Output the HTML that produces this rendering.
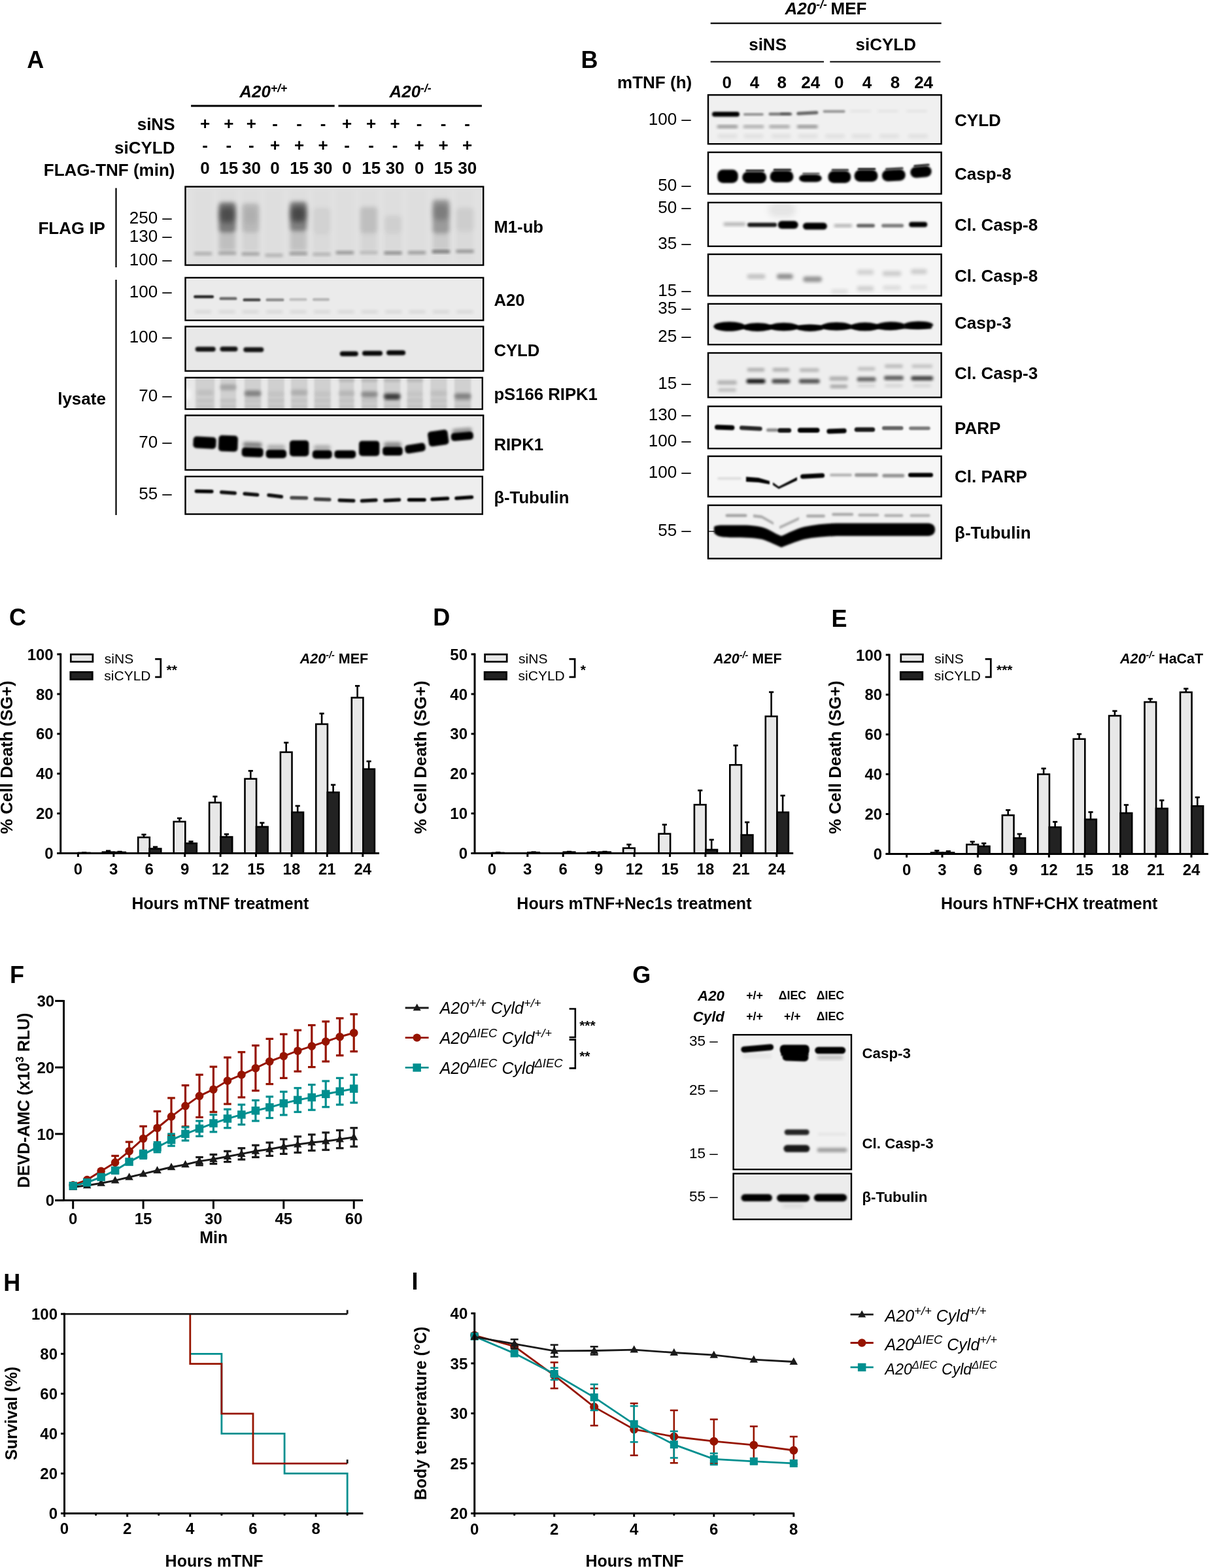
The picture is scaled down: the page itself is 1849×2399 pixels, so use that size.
<!DOCTYPE html>
<html><head><meta charset="utf-8"><title>Figure</title>
<style>html,body{margin:0;padding:0;background:#fff;}svg{display:block;}text{font-family:"Liberation Sans",Arial,sans-serif;}</style>
</head><body>
<svg width="1849" height="2399" viewBox="0 0 1849 2399">
<rect width="1849" height="2399" fill="#fff"/>
<text x="41.2" y="103.7" font-size="36" font-weight="bold">A</text>
<text x="366.3" y="148.5" font-size="26" font-weight="bold" font-style="italic">A20<tspan font-size="17.5" dy="-8">+/+</tspan></text>
<text x="595.4" y="148.5" font-size="26" font-weight="bold" font-style="italic">A20<tspan font-size="17.5" dy="-8">-/-</tspan></text>
<line x1="292.1" y1="162.0" x2="511.7" y2="162.0" stroke="#000" stroke-width="2.8"/>
<line x1="517.5" y1="162.0" x2="736.9" y2="162.0" stroke="#000" stroke-width="2.8"/>
<text x="267.5" y="198.6" font-size="26" font-weight="bold" text-anchor="end">siNS</text>
<text x="267.5" y="234.5" font-size="26" font-weight="bold" text-anchor="end">siCYLD</text>
<text x="267.5" y="268.5" font-size="26" font-weight="bold" text-anchor="end">FLAG-TNF (min)</text>
<text x="313.5" y="198.0" font-size="26" font-weight="bold" text-anchor="middle">+</text>
<text x="313.5" y="231.2" font-size="26" font-weight="bold" text-anchor="middle">-</text>
<text x="349.8" y="198.0" font-size="26" font-weight="bold" text-anchor="middle">+</text>
<text x="349.8" y="231.2" font-size="26" font-weight="bold" text-anchor="middle">-</text>
<text x="384.4" y="198.0" font-size="26" font-weight="bold" text-anchor="middle">+</text>
<text x="384.4" y="231.2" font-size="26" font-weight="bold" text-anchor="middle">-</text>
<text x="420.6" y="198.0" font-size="26" font-weight="bold" text-anchor="middle">-</text>
<text x="420.6" y="231.2" font-size="26" font-weight="bold" text-anchor="middle">+</text>
<text x="457.6" y="198.0" font-size="26" font-weight="bold" text-anchor="middle">-</text>
<text x="457.6" y="231.2" font-size="26" font-weight="bold" text-anchor="middle">+</text>
<text x="494.0" y="198.0" font-size="26" font-weight="bold" text-anchor="middle">-</text>
<text x="494.0" y="231.2" font-size="26" font-weight="bold" text-anchor="middle">+</text>
<text x="530.5" y="198.0" font-size="26" font-weight="bold" text-anchor="middle">+</text>
<text x="530.5" y="231.2" font-size="26" font-weight="bold" text-anchor="middle">-</text>
<text x="567.7" y="198.0" font-size="26" font-weight="bold" text-anchor="middle">+</text>
<text x="567.7" y="231.2" font-size="26" font-weight="bold" text-anchor="middle">-</text>
<text x="604.1" y="198.0" font-size="26" font-weight="bold" text-anchor="middle">+</text>
<text x="604.1" y="231.2" font-size="26" font-weight="bold" text-anchor="middle">-</text>
<text x="641.2" y="198.0" font-size="26" font-weight="bold" text-anchor="middle">-</text>
<text x="641.2" y="231.2" font-size="26" font-weight="bold" text-anchor="middle">+</text>
<text x="678.1" y="198.0" font-size="26" font-weight="bold" text-anchor="middle">-</text>
<text x="678.1" y="231.2" font-size="26" font-weight="bold" text-anchor="middle">+</text>
<text x="714.7" y="198.0" font-size="26" font-weight="bold" text-anchor="middle">-</text>
<text x="714.7" y="231.2" font-size="26" font-weight="bold" text-anchor="middle">+</text>
<text x="313.5" y="266.3" font-size="26" font-weight="bold" text-anchor="middle">0</text>
<text x="349.8" y="266.3" font-size="26" font-weight="bold" text-anchor="middle">15</text>
<text x="384.4" y="266.3" font-size="26" font-weight="bold" text-anchor="middle">30</text>
<text x="420.6" y="266.3" font-size="26" font-weight="bold" text-anchor="middle">0</text>
<text x="457.6" y="266.3" font-size="26" font-weight="bold" text-anchor="middle">15</text>
<text x="494.0" y="266.3" font-size="26" font-weight="bold" text-anchor="middle">30</text>
<text x="530.5" y="266.3" font-size="26" font-weight="bold" text-anchor="middle">0</text>
<text x="567.7" y="266.3" font-size="26" font-weight="bold" text-anchor="middle">15</text>
<text x="604.1" y="266.3" font-size="26" font-weight="bold" text-anchor="middle">30</text>
<text x="641.2" y="266.3" font-size="26" font-weight="bold" text-anchor="middle">0</text>
<text x="678.1" y="266.3" font-size="26" font-weight="bold" text-anchor="middle">15</text>
<text x="714.7" y="266.3" font-size="26" font-weight="bold" text-anchor="middle">30</text>
<line x1="177.5" y1="287.7" x2="177.5" y2="409.0" stroke="#000" stroke-width="2.2"/>
<line x1="177.5" y1="428.0" x2="177.5" y2="788.0" stroke="#000" stroke-width="2.2"/>
<text x="58.4" y="358.4" font-size="26" font-weight="bold">FLAG IP</text>
<text x="88.2" y="618.7" font-size="26" font-weight="bold">lysate</text>
<text x="262.8" y="342.3" font-size="26" text-anchor="end">250 –</text>
<text x="262.8" y="370.2" font-size="26" text-anchor="end">130 –</text>
<text x="262.8" y="405.7" font-size="26" text-anchor="end">100 –</text>
<text x="262.8" y="455.3" font-size="26" text-anchor="end">100 –</text>
<text x="262.8" y="523.9" font-size="26" text-anchor="end">100 –</text>
<text x="262.8" y="614.0" font-size="26" text-anchor="end">70 –</text>
<text x="262.8" y="685.4" font-size="26" text-anchor="end">70 –</text>
<text x="262.8" y="763.7" font-size="26" text-anchor="end">55 –</text>
<text x="755.4" y="355.6" font-size="25.7" font-weight="bold">M1-ub</text>
<text x="755.4" y="468.3" font-size="25.7" font-weight="bold">A20</text>
<text x="755.4" y="545.4" font-size="25.7" font-weight="bold">CYLD</text>
<text x="755.4" y="611.8" font-size="25.7" font-weight="bold">pS166 RIPK1</text>
<text x="755.4" y="688.5" font-size="25.7" font-weight="bold">RIPK1</text>
<text x="755.4" y="769.8" font-size="25.7" font-weight="bold">β-Tubulin</text>
<rect x="283.5" y="285.6" width="455.7" height="120.0" fill="#e1e1e1"/>
<clipPath id="ca1"><rect x="283.5" y="285.6" width="455.7" height="120.0"/></clipPath><g clip-path="url(#ca1)">
<rect x="296.5" y="385.5" width="28.0" height="5.0" rx="2.5" fill="#000" fill-opacity="0.22" filter="url(#b2)"/>
<rect x="333.6" y="385.0" width="28.0" height="5.0" rx="2.5" fill="#000" fill-opacity="0.25" filter="url(#b2)"/>
<rect x="369.2" y="386.0" width="28.0" height="5.0" rx="2.5" fill="#000" fill-opacity="0.27" filter="url(#b2)"/>
<rect x="405.0" y="388.0" width="28.0" height="5.0" rx="2.5" fill="#000" fill-opacity="0.20" filter="url(#b2)"/>
<rect x="442.3" y="385.5" width="28.0" height="5.0" rx="2.5" fill="#000" fill-opacity="0.30" filter="url(#b2)"/>
<rect x="478.0" y="386.5" width="28.0" height="5.0" rx="2.5" fill="#000" fill-opacity="0.20" filter="url(#b2)"/>
<rect x="513.4" y="384.0" width="28.0" height="5.0" rx="2.5" fill="#000" fill-opacity="0.33" filter="url(#b2)"/>
<rect x="550.0" y="384.0" width="28.0" height="5.0" rx="2.5" fill="#000" fill-opacity="0.17" filter="url(#b2)"/>
<rect x="587.0" y="384.5" width="28.0" height="5.0" rx="2.5" fill="#000" fill-opacity="0.37" filter="url(#b2)"/>
<rect x="623.5" y="384.0" width="28.0" height="5.0" rx="2.5" fill="#000" fill-opacity="0.30" filter="url(#b2)"/>
<rect x="660.4" y="382.5" width="28.0" height="5.0" rx="2.5" fill="#000" fill-opacity="0.45" filter="url(#b2)"/>
<rect x="697.0" y="382.0" width="28.0" height="5.0" rx="2.5" fill="#000" fill-opacity="0.33" filter="url(#b2)"/>
<rect x="334.6" y="309.6" width="26.0" height="46.4" rx="5.0" fill="#000" fill-opacity="0.45" filter="url(#b3)"/>
<rect x="336.1" y="316.6" width="23.0" height="24.0" rx="7.0" fill="#000" fill-opacity="0.38" filter="url(#b4_5)"/>
<rect x="335.1" y="356.0" width="25.0" height="28.0" rx="3.0" fill="#000" fill-opacity="0.14" filter="url(#b3)"/>
<rect x="370.2" y="311.0" width="26.0" height="45.0" rx="5.0" fill="#000" fill-opacity="0.17" filter="url(#b3)"/>
<rect x="371.7" y="318.0" width="23.0" height="24.0" rx="7.0" fill="#000" fill-opacity="0.05" filter="url(#b4_5)"/>
<rect x="370.7" y="356.0" width="25.0" height="28.0" rx="3.0" fill="#000" fill-opacity="0.05" filter="url(#b3)"/>
<rect x="443.3" y="308.5" width="26.0" height="45.5" rx="5.0" fill="#000" fill-opacity="0.42" filter="url(#b3)"/>
<rect x="444.8" y="315.5" width="23.0" height="24.0" rx="7.0" fill="#000" fill-opacity="0.45" filter="url(#b4_5)"/>
<rect x="443.8" y="354.0" width="25.0" height="30.0" rx="3.0" fill="#000" fill-opacity="0.13" filter="url(#b3)"/>
<rect x="479.0" y="318.0" width="26.0" height="40.0" rx="5.0" fill="#000" fill-opacity="0.06" filter="url(#b3)"/>
<rect x="479.5" y="358.0" width="25.0" height="26.0" rx="3.0" fill="#000" fill-opacity="0.02" filter="url(#b3)"/>
<rect x="551.0" y="316.4" width="26.0" height="41.0" rx="5.0" fill="#000" fill-opacity="0.14" filter="url(#b3)"/>
<rect x="551.5" y="357.4" width="25.0" height="26.6" rx="3.0" fill="#000" fill-opacity="0.04" filter="url(#b3)"/>
<rect x="588.0" y="330.0" width="26.0" height="27.0" rx="5.0" fill="#000" fill-opacity="0.07" filter="url(#b3)"/>
<rect x="588.5" y="357.0" width="25.0" height="27.0" rx="3.0" fill="#000" fill-opacity="0.02" filter="url(#b3)"/>
<rect x="661.4" y="305.5" width="26.0" height="51.9" rx="5.0" fill="#000" fill-opacity="0.30" filter="url(#b3)"/>
<rect x="662.9" y="312.5" width="23.0" height="24.0" rx="7.0" fill="#000" fill-opacity="0.20" filter="url(#b4_5)"/>
<rect x="661.9" y="357.4" width="25.0" height="26.6" rx="3.0" fill="#000" fill-opacity="0.09" filter="url(#b3)"/>
<rect x="698.0" y="318.0" width="26.0" height="36.0" rx="5.0" fill="#000" fill-opacity="0.08" filter="url(#b3)"/>
<rect x="698.5" y="354.0" width="25.0" height="30.0" rx="3.0" fill="#000" fill-opacity="0.02" filter="url(#b3)"/>
<rect x="297.0" y="290.0" width="27.0" height="110.0" rx="2.0" fill="#000" fill-opacity="0.01" filter="url(#b3)"/>
<rect x="334.1" y="290.0" width="27.0" height="110.0" rx="2.0" fill="#000" fill-opacity="0.01" filter="url(#b3)"/>
<rect x="369.7" y="290.0" width="27.0" height="110.0" rx="2.0" fill="#000" fill-opacity="0.01" filter="url(#b3)"/>
<rect x="405.5" y="290.0" width="27.0" height="110.0" rx="2.0" fill="#000" fill-opacity="0.01" filter="url(#b3)"/>
<rect x="442.8" y="290.0" width="27.0" height="110.0" rx="2.0" fill="#000" fill-opacity="0.01" filter="url(#b3)"/>
<rect x="478.5" y="290.0" width="27.0" height="110.0" rx="2.0" fill="#000" fill-opacity="0.01" filter="url(#b3)"/>
<rect x="513.9" y="290.0" width="27.0" height="110.0" rx="2.0" fill="#000" fill-opacity="0.01" filter="url(#b3)"/>
<rect x="550.5" y="290.0" width="27.0" height="110.0" rx="2.0" fill="#000" fill-opacity="0.01" filter="url(#b3)"/>
<rect x="587.5" y="290.0" width="27.0" height="110.0" rx="2.0" fill="#000" fill-opacity="0.01" filter="url(#b3)"/>
<rect x="624.0" y="290.0" width="27.0" height="110.0" rx="2.0" fill="#000" fill-opacity="0.01" filter="url(#b3)"/>
<rect x="660.9" y="290.0" width="27.0" height="110.0" rx="2.0" fill="#000" fill-opacity="0.01" filter="url(#b3)"/>
<rect x="697.5" y="290.0" width="27.0" height="110.0" rx="2.0" fill="#000" fill-opacity="0.01" filter="url(#b3)"/>
</g>
<rect x="283.5" y="285.6" width="455.7" height="120.0" fill="none" stroke="#000" stroke-width="2.4"/>
<rect x="283.5" y="424.9" width="455.7" height="65.2" fill="#ebebeb"/>
<clipPath id="ca2"><rect x="283.5" y="424.9" width="455.7" height="65.2"/></clipPath><g clip-path="url(#ca2)">
<rect x="296.1" y="451.8" width="31.0" height="4.5" rx="2.2" fill="#000" fill-opacity="0.85" filter="url(#b1)"/>
<rect x="335.5" y="454.6" width="27.0" height="4.5" rx="2.2" fill="#000" fill-opacity="0.55" filter="url(#b1)"/>
<rect x="371.5" y="456.6" width="27.0" height="4.5" rx="2.2" fill="#000" fill-opacity="0.70" filter="url(#b1)"/>
<rect x="406.5" y="456.6" width="28.0" height="4.5" rx="2.2" fill="#000" fill-opacity="0.40" filter="url(#b1)"/>
<rect x="442.5" y="456.1" width="27.0" height="4.5" rx="2.2" fill="#000" fill-opacity="0.18" filter="url(#b1)"/>
<rect x="478.0" y="456.1" width="26.0" height="4.5" rx="2.2" fill="#000" fill-opacity="0.22" filter="url(#b1)"/>
<rect x="297.5" y="474.5" width="26.0" height="5.0" rx="2.5" fill="#000" fill-opacity="0.08" filter="url(#b2)"/>
<rect x="333.9" y="474.5" width="26.0" height="5.0" rx="2.5" fill="#000" fill-opacity="0.08" filter="url(#b2)"/>
<rect x="370.3" y="474.5" width="26.0" height="5.0" rx="2.5" fill="#000" fill-opacity="0.08" filter="url(#b2)"/>
<rect x="406.7" y="474.5" width="26.0" height="5.0" rx="2.5" fill="#000" fill-opacity="0.08" filter="url(#b2)"/>
<rect x="443.1" y="474.5" width="26.0" height="5.0" rx="2.5" fill="#000" fill-opacity="0.08" filter="url(#b2)"/>
<rect x="479.5" y="474.5" width="26.0" height="5.0" rx="2.5" fill="#000" fill-opacity="0.08" filter="url(#b2)"/>
<rect x="515.9" y="474.5" width="26.0" height="5.0" rx="2.5" fill="#000" fill-opacity="0.08" filter="url(#b2)"/>
<rect x="552.3" y="474.5" width="26.0" height="5.0" rx="2.5" fill="#000" fill-opacity="0.08" filter="url(#b2)"/>
<rect x="588.7" y="474.5" width="26.0" height="5.0" rx="2.5" fill="#000" fill-opacity="0.08" filter="url(#b2)"/>
<rect x="625.1" y="474.5" width="26.0" height="5.0" rx="2.5" fill="#000" fill-opacity="0.08" filter="url(#b2)"/>
<rect x="661.5" y="474.5" width="26.0" height="5.0" rx="2.5" fill="#000" fill-opacity="0.08" filter="url(#b2)"/>
<rect x="697.9" y="474.5" width="26.0" height="5.0" rx="2.5" fill="#000" fill-opacity="0.08" filter="url(#b2)"/>
</g>
<rect x="283.5" y="424.9" width="455.7" height="65.2" fill="none" stroke="#000" stroke-width="2.4"/>
<rect x="283.5" y="499.6" width="455.7" height="68.0" fill="#e8e8e8"/>
<clipPath id="ca3"><rect x="283.5" y="499.6" width="455.7" height="68.0"/></clipPath><g clip-path="url(#ca3)">
<rect x="298.7" y="530.5" width="31.0" height="7.5" rx="3.8" fill="#000" fill-opacity="0.92" filter="url(#b1_5)"/>
<rect x="336.5" y="530.2" width="27.0" height="7.5" rx="3.8" fill="#000" fill-opacity="0.92" filter="url(#b1_5)"/>
<rect x="372.3" y="531.2" width="31.0" height="7.5" rx="3.8" fill="#000" fill-opacity="0.92" filter="url(#b1_5)"/>
<rect x="519.8" y="537.5" width="28.0" height="7.5" rx="3.8" fill="#000" fill-opacity="0.97" filter="url(#b1_5)"/>
<rect x="554.0" y="536.8" width="31.0" height="7.5" rx="3.8" fill="#000" fill-opacity="0.97" filter="url(#b1_5)"/>
<rect x="591.1" y="535.9" width="29.0" height="7.5" rx="3.8" fill="#000" fill-opacity="0.97" filter="url(#b1_5)"/>
</g>
<rect x="283.5" y="499.6" width="455.7" height="68.0" fill="none" stroke="#000" stroke-width="2.4"/>
<rect x="283.5" y="577.8" width="454.3" height="48.2" fill="#e8e8e8"/>
<clipPath id="ca4"><rect x="283.5" y="577.8" width="454.3" height="48.2"/></clipPath><g clip-path="url(#ca4)">
<rect x="298.8" y="576.0" width="29.4" height="52.0" rx="2.0" fill="#000" fill-opacity="0.10" filter="url(#b1_5)"/>
<rect x="337.0" y="576.0" width="24.0" height="52.0" rx="2.0" fill="#000" fill-opacity="0.10" filter="url(#b1_5)"/>
<rect x="374.0" y="576.0" width="25.3" height="52.0" rx="2.0" fill="#000" fill-opacity="0.10" filter="url(#b1_5)"/>
<rect x="409.5" y="576.0" width="25.3" height="52.0" rx="2.0" fill="#000" fill-opacity="0.10" filter="url(#b1_5)"/>
<rect x="445.0" y="576.0" width="25.3" height="52.0" rx="2.0" fill="#000" fill-opacity="0.10" filter="url(#b1_5)"/>
<rect x="480.5" y="576.0" width="25.3" height="52.0" rx="2.0" fill="#000" fill-opacity="0.10" filter="url(#b1_5)"/>
<rect x="518.8" y="576.0" width="22.6" height="52.0" rx="2.0" fill="#000" fill-opacity="0.10" filter="url(#b1_5)"/>
<rect x="553.0" y="576.0" width="23.9" height="52.0" rx="2.0" fill="#000" fill-opacity="0.10" filter="url(#b1_5)"/>
<rect x="587.0" y="576.0" width="25.4" height="52.0" rx="2.0" fill="#000" fill-opacity="0.10" filter="url(#b1_5)"/>
<rect x="622.6" y="576.0" width="24.0" height="52.0" rx="2.0" fill="#000" fill-opacity="0.10" filter="url(#b1_5)"/>
<rect x="658.2" y="576.0" width="25.3" height="52.0" rx="2.0" fill="#000" fill-opacity="0.10" filter="url(#b1_5)"/>
<rect x="695.0" y="576.0" width="25.4" height="52.0" rx="2.0" fill="#000" fill-opacity="0.10" filter="url(#b1_5)"/>
<rect x="300.5" y="596.5" width="26.0" height="9.0" rx="4.5" fill="#000" fill-opacity="0.08" filter="url(#b2_5)"/>
<rect x="336.0" y="588.0" width="26.0" height="9.0" rx="4.5" fill="#000" fill-opacity="0.20" filter="url(#b2_5)"/>
<rect x="373.6" y="597.5" width="26.0" height="9.0" rx="4.5" fill="#000" fill-opacity="0.38" filter="url(#b2_5)"/>
<rect x="444.6" y="596.2" width="26.0" height="9.0" rx="4.5" fill="#000" fill-opacity="0.16" filter="url(#b2_5)"/>
<rect x="517.1" y="597.5" width="26.0" height="9.0" rx="4.5" fill="#000" fill-opacity="0.12" filter="url(#b2_5)"/>
<rect x="552.0" y="598.9" width="26.0" height="9.0" rx="4.5" fill="#000" fill-opacity="0.33" filter="url(#b2_5)"/>
<rect x="586.7" y="601.7" width="26.0" height="9.0" rx="4.5" fill="#000" fill-opacity="0.62" filter="url(#b2_5)"/>
<rect x="694.7" y="601.7" width="26.0" height="9.0" rx="4.5" fill="#000" fill-opacity="0.38" filter="url(#b2_5)"/>
<rect x="657.9" y="597.5" width="26.0" height="9.0" rx="4.5" fill="#000" fill-opacity="0.08" filter="url(#b2_5)"/>
<rect x="409.1" y="598.5" width="26.0" height="9.0" rx="4.5" fill="#000" fill-opacity="0.06" filter="url(#b2_5)"/>
<rect x="480.1" y="598.5" width="26.0" height="9.0" rx="4.5" fill="#000" fill-opacity="0.06" filter="url(#b2_5)"/>
<rect x="621.6" y="598.5" width="26.0" height="9.0" rx="4.5" fill="#000" fill-opacity="0.05" filter="url(#b2_5)"/>
<rect x="588.7" y="605.0" width="22.0" height="6.0" rx="3.0" fill="#000" fill-opacity="0.35" filter="url(#b2)"/>
<rect x="300.5" y="610.5" width="26.0" height="5.0" rx="2.5" fill="#000" fill-opacity="0.08" filter="url(#b2)"/>
<rect x="300.5" y="619.0" width="26.0" height="5.0" rx="2.5" fill="#000" fill-opacity="0.07" filter="url(#b2)"/>
<rect x="336.0" y="610.5" width="26.0" height="5.0" rx="2.5" fill="#000" fill-opacity="0.08" filter="url(#b2)"/>
<rect x="336.0" y="619.0" width="26.0" height="5.0" rx="2.5" fill="#000" fill-opacity="0.07" filter="url(#b2)"/>
<rect x="373.6" y="610.5" width="26.0" height="5.0" rx="2.5" fill="#000" fill-opacity="0.08" filter="url(#b2)"/>
<rect x="373.6" y="619.0" width="26.0" height="5.0" rx="2.5" fill="#000" fill-opacity="0.07" filter="url(#b2)"/>
<rect x="409.1" y="610.5" width="26.0" height="5.0" rx="2.5" fill="#000" fill-opacity="0.08" filter="url(#b2)"/>
<rect x="409.1" y="619.0" width="26.0" height="5.0" rx="2.5" fill="#000" fill-opacity="0.07" filter="url(#b2)"/>
<rect x="444.6" y="610.5" width="26.0" height="5.0" rx="2.5" fill="#000" fill-opacity="0.08" filter="url(#b2)"/>
<rect x="444.6" y="619.0" width="26.0" height="5.0" rx="2.5" fill="#000" fill-opacity="0.07" filter="url(#b2)"/>
<rect x="480.1" y="610.5" width="26.0" height="5.0" rx="2.5" fill="#000" fill-opacity="0.08" filter="url(#b2)"/>
<rect x="480.1" y="619.0" width="26.0" height="5.0" rx="2.5" fill="#000" fill-opacity="0.07" filter="url(#b2)"/>
<rect x="517.1" y="610.5" width="26.0" height="5.0" rx="2.5" fill="#000" fill-opacity="0.08" filter="url(#b2)"/>
<rect x="517.1" y="619.0" width="26.0" height="5.0" rx="2.5" fill="#000" fill-opacity="0.07" filter="url(#b2)"/>
<rect x="552.0" y="610.5" width="26.0" height="5.0" rx="2.5" fill="#000" fill-opacity="0.08" filter="url(#b2)"/>
<rect x="552.0" y="619.0" width="26.0" height="5.0" rx="2.5" fill="#000" fill-opacity="0.07" filter="url(#b2)"/>
<rect x="586.7" y="610.5" width="26.0" height="5.0" rx="2.5" fill="#000" fill-opacity="0.08" filter="url(#b2)"/>
<rect x="586.7" y="619.0" width="26.0" height="5.0" rx="2.5" fill="#000" fill-opacity="0.07" filter="url(#b2)"/>
<rect x="621.6" y="610.5" width="26.0" height="5.0" rx="2.5" fill="#000" fill-opacity="0.08" filter="url(#b2)"/>
<rect x="621.6" y="619.0" width="26.0" height="5.0" rx="2.5" fill="#000" fill-opacity="0.07" filter="url(#b2)"/>
<rect x="657.9" y="610.5" width="26.0" height="5.0" rx="2.5" fill="#000" fill-opacity="0.08" filter="url(#b2)"/>
<rect x="657.9" y="619.0" width="26.0" height="5.0" rx="2.5" fill="#000" fill-opacity="0.07" filter="url(#b2)"/>
<rect x="694.7" y="610.5" width="26.0" height="5.0" rx="2.5" fill="#000" fill-opacity="0.08" filter="url(#b2)"/>
<rect x="694.7" y="619.0" width="26.0" height="5.0" rx="2.5" fill="#000" fill-opacity="0.07" filter="url(#b2)"/>
<rect x="517.1" y="579.1" width="26.0" height="5.0" rx="2.5" fill="#000" fill-opacity="0.12" filter="url(#b2)"/>
<rect x="552.0" y="579.1" width="26.0" height="5.0" rx="2.5" fill="#000" fill-opacity="0.12" filter="url(#b2)"/>
<rect x="586.7" y="579.1" width="26.0" height="5.0" rx="2.5" fill="#000" fill-opacity="0.12" filter="url(#b2)"/>
<rect x="621.6" y="579.1" width="26.0" height="5.0" rx="2.5" fill="#000" fill-opacity="0.12" filter="url(#b2)"/>
<ellipse cx="287" cy="603" rx="4" ry="9" fill="#fff" fill-opacity="0.8" filter="url(#b3)"/>
</g>
<rect x="283.5" y="577.8" width="454.3" height="48.2" fill="none" stroke="#000" stroke-width="2.4"/>
<rect x="283.5" y="635.5" width="455.7" height="83.5" fill="#e9e9e9"/>
<clipPath id="ca5"><rect x="283.5" y="635.5" width="455.7" height="83.5"/></clipPath><g clip-path="url(#ca5)">
<rect x="295.5" y="668.2" width="35.0" height="18.0" rx="5.0" fill="#000" fill-opacity="1.00" filter="url(#b1_5)" transform="rotate(3.0 313.0 677.2)"/>
<rect x="334.2" y="666.2" width="29.5" height="24.5" rx="5.0" fill="#000" fill-opacity="1.00" filter="url(#b1_5)" transform="rotate(2.0 349.0 678.5)"/>
<rect x="369.7" y="684.8" width="33.0" height="14.5" rx="5.0" fill="#000" fill-opacity="1.00" filter="url(#b1_5)" transform="rotate(2.0 386.2 692.0)"/>
<rect x="371.7" y="676.5" width="29.0" height="8.0" rx="4.0" fill="#000" fill-opacity="0.45" filter="url(#b2_5)" transform="rotate(2.0 386.2 680.5)"/>
<rect x="406.6" y="688.0" width="31.5" height="13.0" rx="5.0" fill="#000" fill-opacity="1.00" filter="url(#b1_5)"/>
<rect x="408.6" y="680.5" width="27.5" height="8.0" rx="4.0" fill="#000" fill-opacity="0.25" filter="url(#b2_5)"/>
<rect x="442.9" y="673.8" width="29.5" height="24.5" rx="5.0" fill="#000" fill-opacity="1.00" filter="url(#b1_5)"/>
<rect x="477.8" y="688.8" width="30.0" height="13.0" rx="5.0" fill="#000" fill-opacity="1.00" filter="url(#b1_5)"/>
<rect x="479.8" y="681.0" width="26.0" height="8.0" rx="4.0" fill="#000" fill-opacity="0.25" filter="url(#b2_5)"/>
<rect x="511.4" y="688.9" width="32.8" height="12.3" rx="5.0" fill="#000" fill-opacity="1.00" filter="url(#b1_5)"/>
<rect x="549.0" y="674.4" width="31.4" height="23.3" rx="5.0" fill="#000" fill-opacity="1.00" filter="url(#b1_5)"/>
<rect x="585.1" y="683.4" width="30.7" height="13.7" rx="5.0" fill="#000" fill-opacity="1.00" filter="url(#b1_5)"/>
<rect x="587.1" y="676.5" width="26.7" height="8.0" rx="4.0" fill="#000" fill-opacity="0.40" filter="url(#b2_5)"/>
<rect x="619.2" y="679.2" width="31.5" height="13.0" rx="5.0" fill="#000" fill-opacity="1.00" filter="url(#b1_5)" transform="rotate(-9.0 635.0 685.7)"/>
<rect x="654.9" y="658.8" width="30.7" height="23.0" rx="5.0" fill="#000" fill-opacity="1.00" filter="url(#b1_5)" transform="rotate(-8.0 670.2 670.3)"/>
<rect x="689.7" y="661.2" width="34.2" height="12.5" rx="5.0" fill="#000" fill-opacity="1.00" filter="url(#b1_5)" transform="rotate(-5.0 706.8 667.5)"/>
<rect x="691.7" y="655.0" width="30.2" height="8.0" rx="4.0" fill="#000" fill-opacity="0.35" filter="url(#b2_5)" transform="rotate(-5.0 706.8 659.0)"/>
</g>
<rect x="283.5" y="635.5" width="455.7" height="83.5" fill="none" stroke="#000" stroke-width="2.4"/>
<rect x="283.5" y="729.0" width="454.3" height="57.6" fill="#eeeeee"/>
<clipPath id="ca6"><rect x="283.5" y="729.0" width="454.3" height="57.6"/></clipPath><g clip-path="url(#ca6)">
<rect x="297.6" y="749.0" width="29.0" height="5.5" rx="2.8" fill="#000" fill-opacity="1.00" filter="url(#b1)" transform="rotate(1.0 312.1 751.8)"/>
<rect x="336.0" y="750.9" width="26.0" height="5.5" rx="2.8" fill="#000" fill-opacity="0.95" filter="url(#b1)" transform="rotate(4.0 349.0 753.6)"/>
<rect x="371.4" y="753.6" width="25.0" height="5.5" rx="2.8" fill="#000" fill-opacity="0.95" filter="url(#b1)" transform="rotate(5.0 383.9 756.4)"/>
<rect x="408.2" y="756.0" width="25.0" height="5.5" rx="2.8" fill="#000" fill-opacity="0.95" filter="url(#b1)" transform="rotate(7.0 420.7 758.8)"/>
<rect x="443.3" y="759.1" width="28.0" height="5.5" rx="2.8" fill="#000" fill-opacity="0.70" filter="url(#b1)" transform="rotate(1.0 457.3 761.9)"/>
<rect x="479.6" y="761.2" width="27.0" height="5.5" rx="2.8" fill="#000" fill-opacity="0.75" filter="url(#b1)" transform="rotate(2.0 493.1 764.0)"/>
<rect x="516.5" y="763.1" width="27.0" height="5.5" rx="2.8" fill="#000" fill-opacity="0.95" filter="url(#b1)" transform="rotate(2.0 530.0 765.9)"/>
<rect x="550.7" y="762.9" width="27.0" height="5.5" rx="2.8" fill="#000" fill-opacity="0.95" filter="url(#b1)" transform="rotate(-3.0 564.2 765.6)"/>
<rect x="586.2" y="762.5" width="27.0" height="5.5" rx="2.8" fill="#000" fill-opacity="0.95" filter="url(#b1)" transform="rotate(-3.0 599.7 765.3)"/>
<rect x="622.8" y="761.9" width="29.0" height="5.5" rx="2.8" fill="#000" fill-opacity="1.00" filter="url(#b1)"/>
<rect x="658.3" y="760.5" width="29.0" height="5.5" rx="2.8" fill="#000" fill-opacity="1.00" filter="url(#b1)" transform="rotate(-3.0 672.8 763.2)"/>
<rect x="695.2" y="758.8" width="29.0" height="5.5" rx="2.8" fill="#000" fill-opacity="1.00" filter="url(#b1)" transform="rotate(-4.0 709.7 761.5)"/>
</g>
<rect x="283.5" y="729.0" width="454.3" height="57.6" fill="none" stroke="#000" stroke-width="2.4"/>
<text x="888.6" y="103.7" font-size="36" font-weight="bold">B</text>
<text x="1200.6" y="21.8" font-size="26" font-weight="bold"><tspan font-style="italic">A20</tspan><tspan font-size="17.5" dy="-9" font-style="italic">-/-</tspan><tspan dy="9" dx="-1.5"> MEF</tspan></text>
<line x1="1086.7" y1="35.7" x2="1439.7" y2="35.7" stroke="#000" stroke-width="2.2"/>
<text x="1145.2" y="76.6" font-size="26" font-weight="bold">siNS</text>
<text x="1308.5" y="76.6" font-size="26" font-weight="bold">siCYLD</text>
<line x1="1086.7" y1="94.5" x2="1260.0" y2="94.5" stroke="#000" stroke-width="2.2"/>
<line x1="1269.3" y1="94.5" x2="1438.3" y2="94.5" stroke="#000" stroke-width="2.2"/>
<text x="944.1" y="134.8" font-size="26" font-weight="bold">mTNF (h)</text>
<text x="1111.7" y="134.8" font-size="26" font-weight="bold" text-anchor="middle">0</text>
<text x="1154.1" y="134.8" font-size="26" font-weight="bold" text-anchor="middle">4</text>
<text x="1195.8" y="134.8" font-size="26" font-weight="bold" text-anchor="middle">8</text>
<text x="1239.7" y="134.8" font-size="26" font-weight="bold" text-anchor="middle">24</text>
<text x="1283.2" y="134.8" font-size="26" font-weight="bold" text-anchor="middle">0</text>
<text x="1326.0" y="134.8" font-size="26" font-weight="bold" text-anchor="middle">4</text>
<text x="1369.1" y="134.8" font-size="26" font-weight="bold" text-anchor="middle">8</text>
<text x="1412.6" y="134.8" font-size="26" font-weight="bold" text-anchor="middle">24</text>
<text x="1056.8" y="191.2" font-size="26" text-anchor="end">100 –</text>
<text x="1056.8" y="291.5" font-size="26" text-anchor="end">50 –</text>
<text x="1056.8" y="325.7" font-size="26" text-anchor="end">50 –</text>
<text x="1056.8" y="381.2" font-size="26" text-anchor="end">35 –</text>
<text x="1056.8" y="453.4" font-size="26" text-anchor="end">15 –</text>
<text x="1056.8" y="479.7" font-size="26" text-anchor="end">35 –</text>
<text x="1056.8" y="522.8" font-size="26" text-anchor="end">25 –</text>
<text x="1056.8" y="595.0" font-size="26" text-anchor="end">15 –</text>
<text x="1056.8" y="643.1" font-size="26" text-anchor="end">130 –</text>
<text x="1056.8" y="683.2" font-size="26" text-anchor="end">100 –</text>
<text x="1056.8" y="730.7" font-size="26" text-anchor="end">100 –</text>
<text x="1056.8" y="819.9" font-size="26" text-anchor="end">55 –</text>
<text x="1460.1" y="192.7" font-size="26" font-weight="bold">CYLD</text>
<text x="1460.1" y="275.2" font-size="26" font-weight="bold">Casp-8</text>
<text x="1460.1" y="352.7" font-size="26" font-weight="bold">Cl. Casp-8</text>
<text x="1460.1" y="430.8" font-size="26" font-weight="bold">Cl. Casp-8</text>
<text x="1460.1" y="502.7" font-size="26" font-weight="bold">Casp-3</text>
<text x="1460.1" y="580.2" font-size="26" font-weight="bold">Cl. Casp-3</text>
<text x="1460.1" y="664.2" font-size="26" font-weight="bold">PARP</text>
<text x="1460.1" y="738.4" font-size="26" font-weight="bold">Cl. PARP</text>
<text x="1460.1" y="824.1" font-size="26" font-weight="bold">β-Tubulin</text>
<rect x="1083.0" y="145.3" width="356.6" height="74.9" fill="#f0f0f0"/>
<clipPath id="cb1"><rect x="1083.0" y="145.3" width="356.6" height="74.9"/></clipPath><g clip-path="url(#cb1)">
<rect x="1089.0" y="171.1" width="42.0" height="7.5" rx="3.8" fill="#000" fill-opacity="1.00" filter="url(#b1_5)"/>
<rect x="1136.9" y="173.0" width="31.0" height="4.0" rx="2.0" fill="#000" fill-opacity="0.40" filter="url(#b1_5)"/>
<rect x="1175.5" y="172.2" width="36.0" height="4.5" rx="2.2" fill="#000" fill-opacity="0.50" filter="url(#b1_5)"/>
<rect x="1193.0" y="172.0" width="16.0" height="4.0" rx="2.0" fill="#000" fill-opacity="0.30" filter="url(#b1_5)"/>
<rect x="1218.3" y="170.5" width="33.0" height="5.0" rx="2.5" fill="#000" fill-opacity="0.60" filter="url(#b1_5)" transform="rotate(-3.0 1234.8 173.0)"/>
<rect x="1258.6" y="168.6" width="34.0" height="4.0" rx="2.0" fill="#000" fill-opacity="0.40" filter="url(#b1_5)"/>
<rect x="1300.0" y="168.0" width="32.0" height="4.0" rx="2.0" fill="#000" fill-opacity="0.05" filter="url(#b2)"/>
<rect x="1342.0" y="168.0" width="32.0" height="4.0" rx="2.0" fill="#000" fill-opacity="0.05" filter="url(#b2)"/>
<rect x="1386.0" y="168.0" width="32.0" height="4.0" rx="2.0" fill="#000" fill-opacity="0.05" filter="url(#b2)"/>
<rect x="1096.5" y="191.6" width="32.0" height="4.5" rx="2.2" fill="#000" fill-opacity="0.40" filter="url(#b2)"/>
<rect x="1136.5" y="191.6" width="32.0" height="4.5" rx="2.2" fill="#000" fill-opacity="0.30" filter="url(#b2)"/>
<rect x="1176.0" y="191.6" width="32.0" height="4.5" rx="2.2" fill="#000" fill-opacity="0.33" filter="url(#b2)"/>
<rect x="1218.8" y="191.6" width="32.0" height="4.5" rx="2.2" fill="#000" fill-opacity="0.42" filter="url(#b2)"/>
<rect x="1097.5" y="205.3" width="30.0" height="6.0" rx="3.0" fill="#000" fill-opacity="0.07" filter="url(#b2_5)"/>
<rect x="1137.5" y="205.3" width="30.0" height="6.0" rx="3.0" fill="#000" fill-opacity="0.07" filter="url(#b2_5)"/>
<rect x="1179.7" y="205.3" width="30.0" height="6.0" rx="3.0" fill="#000" fill-opacity="0.07" filter="url(#b2_5)"/>
<rect x="1220.5" y="205.3" width="30.0" height="6.0" rx="3.0" fill="#000" fill-opacity="0.07" filter="url(#b2_5)"/>
<rect x="1262.0" y="205.3" width="30.0" height="6.0" rx="3.0" fill="#000" fill-opacity="0.07" filter="url(#b2_5)"/>
<rect x="1302.5" y="205.3" width="30.0" height="6.0" rx="3.0" fill="#000" fill-opacity="0.07" filter="url(#b2_5)"/>
<rect x="1345.0" y="205.3" width="30.0" height="6.0" rx="3.0" fill="#000" fill-opacity="0.07" filter="url(#b2_5)"/>
<rect x="1389.0" y="205.3" width="30.0" height="6.0" rx="3.0" fill="#000" fill-opacity="0.07" filter="url(#b2_5)"/>
</g>
<rect x="1083.0" y="145.3" width="356.6" height="74.9" fill="none" stroke="#000" stroke-width="2.4"/>
<rect x="1083.0" y="233.0" width="356.6" height="63.6" fill="#fbfbfb"/>
<clipPath id="cb2"><rect x="1083.0" y="233.0" width="356.6" height="63.6"/></clipPath><g clip-path="url(#cb2)">
<rect x="1097.2" y="259.4" width="31.5" height="20.6" rx="8.5" fill="#000" fill-opacity="1.00" filter="url(#b1_5)"/>
<rect x="1135.2" y="262.8" width="37.0" height="17.5" rx="8.5" fill="#000" fill-opacity="1.00" filter="url(#b1_5)"/>
<rect x="1140.2" y="259.6" width="29.0" height="3.0" rx="1.5" fill="#000" fill-opacity="0.90" filter="url(#b0_8)"/>
<rect x="1177.6" y="261.3" width="35.8" height="17.8" rx="8.5" fill="#000" fill-opacity="1.00" filter="url(#b1_5)"/>
<rect x="1182.6" y="258.2" width="27.8" height="3.0" rx="1.5" fill="#000" fill-opacity="0.90" filter="url(#b0_8)"/>
<rect x="1222.0" y="267.1" width="34.8" height="11.3" rx="8.5" fill="#000" fill-opacity="1.00" filter="url(#b1_5)"/>
<rect x="1227.0" y="263.9" width="26.8" height="3.0" rx="1.5" fill="#000" fill-opacity="0.55" filter="url(#b0_8)"/>
<rect x="1266.5" y="261.6" width="34.7" height="18.5" rx="8.5" fill="#000" fill-opacity="1.00" filter="url(#b1_5)"/>
<rect x="1271.5" y="258.4" width="26.7" height="3.0" rx="1.5" fill="#000" fill-opacity="0.80" filter="url(#b0_8)"/>
<rect x="1306.6" y="260.1" width="35.8" height="17.8" rx="8.5" fill="#000" fill-opacity="1.00" filter="url(#b1_5)"/>
<rect x="1311.6" y="257.0" width="27.8" height="3.0" rx="1.5" fill="#000" fill-opacity="0.90" filter="url(#b0_8)"/>
<rect x="1348.9" y="259.5" width="35.8" height="17.4" rx="8.5" fill="#000" fill-opacity="1.00" filter="url(#b1_5)" transform="rotate(-3.0 1366.8 268.2)"/>
<rect x="1353.9" y="256.4" width="27.8" height="3.0" rx="1.5" fill="#000" fill-opacity="0.80" filter="url(#b0_8)" transform="rotate(-3.0 1367.8 257.9)"/>
<rect x="1392.2" y="254.5" width="32.5" height="17.0" rx="8.5" fill="#000" fill-opacity="1.00" filter="url(#b1_5)" transform="rotate(-5.0 1408.5 263.0)"/>
<rect x="1397.2" y="251.4" width="24.5" height="3.0" rx="1.5" fill="#000" fill-opacity="0.90" filter="url(#b0_8)" transform="rotate(-5.0 1409.5 252.9)"/>
</g>
<rect x="1083.0" y="233.0" width="356.6" height="63.6" fill="none" stroke="#000" stroke-width="2.4"/>
<rect x="1083.0" y="309.9" width="356.6" height="66.9" fill="#f8f8f8"/>
<clipPath id="cb3"><rect x="1083.0" y="309.9" width="356.6" height="66.9"/></clipPath><g clip-path="url(#cb3)">
<rect x="1175.0" y="310.0" width="42.0" height="22.0" rx="11.0" fill="#000" fill-opacity="0.08" filter="url(#b5)"/>
<rect x="1106.3" y="340.2" width="34.0" height="5.5" rx="2.8" fill="#000" fill-opacity="0.27" filter="url(#b2)"/>
<rect x="1143.1" y="340.8" width="45.0" height="6.5" rx="3.2" fill="#000" fill-opacity="0.90" filter="url(#b1_5)"/>
<rect x="1189.7" y="338.0" width="31.0" height="12.0" rx="6.0" fill="#000" fill-opacity="1.00" filter="url(#b1_5)"/>
<rect x="1227.9" y="340.8" width="37.0" height="10.5" rx="5.2" fill="#000" fill-opacity="1.00" filter="url(#b1_5)"/>
<rect x="1275.3" y="342.9" width="28.0" height="4.5" rx="2.2" fill="#000" fill-opacity="0.30" filter="url(#b2)"/>
<rect x="1310.0" y="342.4" width="28.0" height="5.5" rx="2.8" fill="#000" fill-opacity="0.60" filter="url(#b1_8)"/>
<rect x="1348.1" y="342.4" width="34.0" height="5.5" rx="2.8" fill="#000" fill-opacity="0.50" filter="url(#b1_8)"/>
<rect x="1390.2" y="339.5" width="28.0" height="8.0" rx="4.0" fill="#000" fill-opacity="1.00" filter="url(#b1_5)"/>
</g>
<rect x="1083.0" y="309.9" width="356.6" height="66.9" fill="none" stroke="#000" stroke-width="2.4"/>
<rect x="1083.0" y="389.0" width="356.6" height="63.5" fill="#f5f5f5"/>
<clipPath id="cb4"><rect x="1083.0" y="389.0" width="356.6" height="63.5"/></clipPath><g clip-path="url(#cb4)">
<rect x="1142.5" y="419.5" width="28.0" height="7.0" rx="3.5" fill="#000" fill-opacity="0.22" filter="url(#b2_5)"/>
<rect x="1187.9" y="419.0" width="25.0" height="8.0" rx="4.0" fill="#000" fill-opacity="0.42" filter="url(#b2_5)"/>
<rect x="1228.1" y="423.1" width="29.0" height="8.5" rx="4.2" fill="#000" fill-opacity="0.40" filter="url(#b2_5)"/>
<rect x="1310.5" y="412.4" width="26.0" height="8.0" rx="4.0" fill="#000" fill-opacity="0.14" filter="url(#b2_5)"/>
<rect x="1349.5" y="414.6" width="29.0" height="8.0" rx="4.0" fill="#000" fill-opacity="0.16" filter="url(#b2_5)"/>
<rect x="1392.8" y="411.4" width="25.0" height="8.0" rx="4.0" fill="#000" fill-opacity="0.16" filter="url(#b2_5)"/>
<rect x="1271.0" y="442.7" width="26.0" height="6.0" rx="3.0" fill="#000" fill-opacity="0.10" filter="url(#b2_5)"/>
<rect x="1310.5" y="437.4" width="26.0" height="8.0" rx="4.0" fill="#000" fill-opacity="0.15" filter="url(#b2_5)"/>
<rect x="1350.0" y="436.8" width="28.0" height="7.0" rx="3.5" fill="#000" fill-opacity="0.10" filter="url(#b2_5)"/>
<rect x="1392.0" y="436.2" width="26.0" height="6.0" rx="3.0" fill="#000" fill-opacity="0.08" filter="url(#b2_5)"/>
</g>
<rect x="1083.0" y="389.0" width="356.6" height="63.5" fill="none" stroke="#000" stroke-width="2.4"/>
<rect x="1083.0" y="464.9" width="356.6" height="62.3" fill="#f1f1f1"/>
<clipPath id="cb5"><rect x="1083.0" y="464.9" width="356.6" height="62.3"/></clipPath><g clip-path="url(#cb5)">
<rect x="1091.3" y="492.2" width="48.0" height="14.5" rx="24.0" fill="#000" fill-opacity="1.00" filter="url(#b1_4)"/>
<rect x="1136.1" y="494.0" width="45.0" height="13.0" rx="22.5" fill="#000" fill-opacity="1.00" filter="url(#b1_4)"/>
<rect x="1176.2" y="493.8" width="45.0" height="12.5" rx="22.5" fill="#000" fill-opacity="1.00" filter="url(#b1_4)"/>
<rect x="1218.4" y="496.4" width="41.0" height="10.5" rx="20.5" fill="#000" fill-opacity="1.00" filter="url(#b1_4)"/>
<rect x="1256.0" y="493.1" width="47.0" height="12.5" rx="23.5" fill="#000" fill-opacity="1.00" filter="url(#b1_4)"/>
<rect x="1300.9" y="493.3" width="44.0" height="13.0" rx="22.0" fill="#000" fill-opacity="1.00" filter="url(#b1_4)"/>
<rect x="1340.0" y="492.2" width="44.0" height="13.0" rx="22.0" fill="#000" fill-opacity="1.00" filter="url(#b1_4)" transform="rotate(-1.0 1362.0 498.7)"/>
<rect x="1381.2" y="491.5" width="46.0" height="12.0" rx="23.0" fill="#000" fill-opacity="1.00" filter="url(#b1_4)" transform="rotate(-1.0 1404.2 497.5)"/>
<rect x="1095.0" y="498.0" width="330.0" height="5.0" rx="2.5" fill="#000" fill-opacity="0.90" filter="url(#b1_5)"/>
</g>
<rect x="1083.0" y="464.9" width="356.6" height="62.3" fill="none" stroke="#000" stroke-width="2.4"/>
<rect x="1083.0" y="540.0" width="356.6" height="68.0" fill="#eeeeee"/>
<clipPath id="cb6"><rect x="1083.0" y="540.0" width="356.6" height="68.0"/></clipPath><g clip-path="url(#cb6)">
<rect x="1097.0" y="582.1" width="30.0" height="6.5" rx="3.2" fill="#000" fill-opacity="0.25" filter="url(#b1_9)"/>
<rect x="1098.0" y="593.9" width="28.0" height="5.5" rx="2.8" fill="#000" fill-opacity="0.20" filter="url(#b2_2)"/>
<rect x="1141.5" y="580.0" width="29.0" height="6.5" rx="3.2" fill="#000" fill-opacity="0.95" filter="url(#b1_9)"/>
<rect x="1142.5" y="563.0" width="27.0" height="5.5" rx="2.8" fill="#000" fill-opacity="0.27" filter="url(#b2_2)"/>
<rect x="1180.4" y="580.0" width="28.0" height="6.5" rx="3.2" fill="#000" fill-opacity="0.72" filter="url(#b1_9)"/>
<rect x="1181.4" y="563.0" width="26.0" height="5.5" rx="2.8" fill="#000" fill-opacity="0.27" filter="url(#b2_2)"/>
<rect x="1221.8" y="580.0" width="32.0" height="6.5" rx="3.2" fill="#000" fill-opacity="0.68" filter="url(#b1_9)"/>
<rect x="1222.8" y="563.5" width="30.0" height="5.5" rx="2.8" fill="#000" fill-opacity="0.24" filter="url(#b2_2)"/>
<rect x="1268.3" y="576.0" width="29.0" height="6.5" rx="3.2" fill="#000" fill-opacity="0.27" filter="url(#b1_9)"/>
<rect x="1269.3" y="588.5" width="27.0" height="5.5" rx="2.8" fill="#000" fill-opacity="0.30" filter="url(#b2_2)"/>
<rect x="1310.6" y="577.1" width="29.0" height="6.5" rx="3.2" fill="#000" fill-opacity="0.58" filter="url(#b1_9)"/>
<rect x="1311.6" y="561.4" width="27.0" height="5.5" rx="2.8" fill="#000" fill-opacity="0.20" filter="url(#b2_2)"/>
<rect x="1351.9" y="575.0" width="30.0" height="6.5" rx="3.2" fill="#000" fill-opacity="0.62" filter="url(#b1_9)"/>
<rect x="1352.9" y="557.5" width="28.0" height="5.5" rx="2.8" fill="#000" fill-opacity="0.22" filter="url(#b2_2)"/>
<rect x="1393.2" y="575.5" width="34.0" height="6.5" rx="3.2" fill="#000" fill-opacity="0.75" filter="url(#b1_9)"/>
<rect x="1394.2" y="557.5" width="32.0" height="5.5" rx="2.8" fill="#000" fill-opacity="0.18" filter="url(#b2_2)"/>
<rect x="1311.1" y="587.5" width="28.0" height="5.0" rx="2.5" fill="#000" fill-opacity="0.10" filter="url(#b2)"/>
<rect x="1352.9" y="587.5" width="28.0" height="5.0" rx="2.5" fill="#000" fill-opacity="0.10" filter="url(#b2)"/>
<rect x="1396.2" y="587.5" width="28.0" height="5.0" rx="2.5" fill="#000" fill-opacity="0.10" filter="url(#b2)"/>
</g>
<rect x="1083.0" y="540.0" width="356.6" height="68.0" fill="none" stroke="#000" stroke-width="2.4"/>
<rect x="1083.0" y="621.7" width="356.6" height="64.5" fill="#f8f8f8"/>
<clipPath id="cb7"><rect x="1083.0" y="621.7" width="356.6" height="64.5"/></clipPath><g clip-path="url(#cb7)">
<rect x="1093.0" y="650.2" width="30.4" height="7.5" rx="3.8" fill="#000" fill-opacity="1.00" filter="url(#b1_3)" transform="rotate(2.0 1108.2 654.0)"/>
<rect x="1131.0" y="651.9" width="34.7" height="6.5" rx="3.2" fill="#000" fill-opacity="0.85" filter="url(#b1_3)" transform="rotate(3.0 1148.3 655.1)"/>
<rect x="1189.2" y="654.9" width="21.0" height="7.0" rx="3.5" fill="#000" fill-opacity="0.92" filter="url(#b1_3)"/>
<rect x="1219.9" y="654.6" width="33.6" height="7.5" rx="3.8" fill="#000" fill-opacity="1.00" filter="url(#b1_3)"/>
<rect x="1264.3" y="655.8" width="30.4" height="7.5" rx="3.8" fill="#000" fill-opacity="1.00" filter="url(#b1_3)" transform="rotate(-2.0 1279.5 659.5)"/>
<rect x="1306.7" y="653.8" width="31.5" height="7.0" rx="3.5" fill="#000" fill-opacity="0.90" filter="url(#b1_3)"/>
<rect x="1348.9" y="652.1" width="32.6" height="6.0" rx="3.0" fill="#000" fill-opacity="0.60" filter="url(#b1_3)"/>
<rect x="1390.1" y="652.4" width="32.6" height="5.5" rx="2.8" fill="#000" fill-opacity="0.50" filter="url(#b1_3)"/>
<rect x="1172.0" y="655.5" width="18.0" height="5.0" rx="2.5" fill="#000" fill-opacity="0.45" filter="url(#b1_5)"/>
</g>
<rect x="1083.0" y="621.7" width="356.6" height="64.5" fill="none" stroke="#000" stroke-width="2.4"/>
<rect x="1083.0" y="698.0" width="356.6" height="61.9" fill="#f6f6f6"/>
<clipPath id="cb8"><rect x="1083.0" y="698.0" width="356.6" height="61.9"/></clipPath><g clip-path="url(#cb8)">
<rect x="1097.2" y="730.1" width="37.0" height="4.0" rx="2.0" fill="#000" fill-opacity="0.10" filter="url(#b1_8)"/>
<path d="M1141,729.5 L1160,731 L1177,736 L1177,741 L1160,738 L1141,737 Z" fill="#000" fill-opacity="1.00" filter="url(#b1_3)"/>
<path d="M1182,738 L1191,744.5 L1219,730 L1219,735 L1191,748 L1182,742 Z" fill="#000" fill-opacity="1.00" filter="url(#b1_2)"/>
<rect x="1224.1" y="724.8" width="37.0" height="7.0" rx="3.5" fill="#000" fill-opacity="1.00" filter="url(#b1_3)" transform="rotate(-3.0 1242.6 728.3)"/>
<rect x="1269.0" y="724.5" width="34.0" height="4.5" rx="2.2" fill="#000" fill-opacity="0.27" filter="url(#b1_8)"/>
<rect x="1307.0" y="724.0" width="36.0" height="5.5" rx="2.8" fill="#000" fill-opacity="0.40" filter="url(#b1_8)"/>
<rect x="1349.3" y="725.0" width="34.0" height="5.5" rx="2.8" fill="#000" fill-opacity="0.40" filter="url(#b1_8)"/>
<rect x="1389.0" y="723.5" width="38.0" height="6.5" rx="3.2" fill="#000" fill-opacity="1.00" filter="url(#b1_3)"/>
</g>
<rect x="1083.0" y="698.0" width="356.6" height="61.9" fill="none" stroke="#000" stroke-width="2.4"/>
<rect x="1083.0" y="773.0" width="356.6" height="81.6" fill="#f1f1f1"/>
<clipPath id="cb9"><rect x="1083.0" y="773.0" width="356.6" height="81.6"/></clipPath><g clip-path="url(#cb9)">
<rect x="1109.5" y="786.4" width="33.0" height="4.5" rx="2.2" fill="#000" fill-opacity="0.33" filter="url(#b1_5)"/>
<rect x="1233.0" y="787.2" width="29.0" height="4.5" rx="2.2" fill="#000" fill-opacity="0.30" filter="url(#b1_5)"/>
<rect x="1272.2" y="784.8" width="33.0" height="4.5" rx="2.2" fill="#000" fill-opacity="0.30" filter="url(#b1_5)"/>
<rect x="1312.3" y="785.8" width="32.0" height="4.5" rx="2.2" fill="#000" fill-opacity="0.28" filter="url(#b1_5)"/>
<rect x="1352.3" y="786.4" width="29.0" height="4.5" rx="2.2" fill="#000" fill-opacity="0.27" filter="url(#b1_5)"/>
<rect x="1391.5" y="786.4" width="31.0" height="4.5" rx="2.2" fill="#000" fill-opacity="0.25" filter="url(#b1_5)"/>
<path d="M1152,787 L1165,788.5 L1183,799 L1183,803 L1165,793 L1152,791.5 Z" fill="#000" fill-opacity="0.30" filter="url(#b1_5)"/>
<path d="M1192,805 L1222,791 L1222,795.5 L1192,809.5 Z" fill="#000" fill-opacity="0.28" filter="url(#b1_5)"/>
<path d="M1092,806 C1096,803 1100,803.5 1120,803.5 C1140,803.5 1155,803 1170,808 C1180,812 1188,818 1195,820 C1205,816 1215,810 1230,806 C1245,803 1262,801 1280,800.5 L1420,800.5 C1428,801 1430,806 1430,810 C1430,815 1428,819 1420,820 L1280,820 C1262,821 1245,822 1230,825 C1215,829 1205,834 1195,837.4 C1186,834 1178,829 1165,825 C1150,822 1130,822.2 1120,822.2 C1100,822 1096,820 1092,815 Z" fill="#000" fill-opacity="1.00" filter="url(#b1_8)"/>
<rect x="1083.0" y="812.0" width="10.0" height="2.0" rx="1.0" fill="#000" fill-opacity="0.60" filter="url(#b0_6)"/>
</g>
<rect x="1083.0" y="773.0" width="356.6" height="81.6" fill="none" stroke="#000" stroke-width="2.4"/>
<text x="14.0" y="957.0" font-size="36" font-weight="bold">C</text>
<line x1="128.7" y1="1304.9" x2="128.7" y2="1304.6" stroke="#000" stroke-width="2.6"/>
<line x1="125.1" y1="1304.6" x2="132.3" y2="1304.6" stroke="#000" stroke-width="2.7"/>
<rect x="119.9" y="1304.9" width="17.6" height="0.6" fill="#222" stroke="#000" stroke-width="2.6"/>
<line x1="165.6" y1="1303.7" x2="165.6" y2="1301.8" stroke="#000" stroke-width="2.6"/>
<line x1="162.0" y1="1301.8" x2="169.2" y2="1301.8" stroke="#000" stroke-width="2.7"/>
<rect x="156.8" y="1303.7" width="17.6" height="1.8" fill="#e8e8e8" stroke="#000" stroke-width="2.6"/>
<line x1="183.1" y1="1304.0" x2="183.1" y2="1303.1" stroke="#000" stroke-width="2.6"/>
<line x1="179.5" y1="1303.1" x2="186.7" y2="1303.1" stroke="#000" stroke-width="2.7"/>
<rect x="174.3" y="1304.0" width="17.6" height="1.5" fill="#222" stroke="#000" stroke-width="2.6"/>
<line x1="220.0" y1="1281.1" x2="220.0" y2="1276.9" stroke="#000" stroke-width="2.6"/>
<line x1="216.4" y1="1276.9" x2="223.6" y2="1276.9" stroke="#000" stroke-width="2.7"/>
<rect x="211.2" y="1281.1" width="17.6" height="24.4" fill="#e8e8e8" stroke="#000" stroke-width="2.6"/>
<line x1="237.5" y1="1298.5" x2="237.5" y2="1295.8" stroke="#000" stroke-width="2.6"/>
<line x1="233.9" y1="1295.8" x2="241.1" y2="1295.8" stroke="#000" stroke-width="2.7"/>
<rect x="228.7" y="1298.5" width="17.6" height="7.0" fill="#222" stroke="#000" stroke-width="2.6"/>
<line x1="274.5" y1="1257.1" x2="274.5" y2="1251.9" stroke="#000" stroke-width="2.6"/>
<line x1="270.9" y1="1251.9" x2="278.1" y2="1251.9" stroke="#000" stroke-width="2.7"/>
<rect x="265.7" y="1257.1" width="17.6" height="48.4" fill="#e8e8e8" stroke="#000" stroke-width="2.6"/>
<line x1="292.0" y1="1290.3" x2="292.0" y2="1287.5" stroke="#000" stroke-width="2.6"/>
<line x1="288.4" y1="1287.5" x2="295.6" y2="1287.5" stroke="#000" stroke-width="2.7"/>
<rect x="283.2" y="1290.3" width="17.6" height="15.2" fill="#222" stroke="#000" stroke-width="2.6"/>
<line x1="328.9" y1="1227.9" x2="328.9" y2="1218.7" stroke="#000" stroke-width="2.6"/>
<line x1="325.3" y1="1218.7" x2="332.5" y2="1218.7" stroke="#000" stroke-width="2.7"/>
<rect x="320.1" y="1227.9" width="17.6" height="77.6" fill="#e8e8e8" stroke="#000" stroke-width="2.6"/>
<line x1="346.4" y1="1280.5" x2="346.4" y2="1276.3" stroke="#000" stroke-width="2.6"/>
<line x1="342.8" y1="1276.3" x2="350.0" y2="1276.3" stroke="#000" stroke-width="2.7"/>
<rect x="337.6" y="1280.5" width="17.6" height="25.0" fill="#222" stroke="#000" stroke-width="2.6"/>
<line x1="383.3" y1="1191.6" x2="383.3" y2="1179.4" stroke="#000" stroke-width="2.6"/>
<line x1="379.7" y1="1179.4" x2="386.9" y2="1179.4" stroke="#000" stroke-width="2.7"/>
<rect x="374.5" y="1191.6" width="17.6" height="113.9" fill="#e8e8e8" stroke="#000" stroke-width="2.6"/>
<line x1="400.8" y1="1265.0" x2="400.8" y2="1258.9" stroke="#000" stroke-width="2.6"/>
<line x1="397.2" y1="1258.9" x2="404.4" y2="1258.9" stroke="#000" stroke-width="2.7"/>
<rect x="392.0" y="1265.0" width="17.6" height="40.5" fill="#222" stroke="#000" stroke-width="2.6"/>
<line x1="437.7" y1="1150.8" x2="437.7" y2="1136.2" stroke="#000" stroke-width="2.6"/>
<line x1="434.1" y1="1136.2" x2="441.3" y2="1136.2" stroke="#000" stroke-width="2.7"/>
<rect x="428.9" y="1150.8" width="17.6" height="154.7" fill="#e8e8e8" stroke="#000" stroke-width="2.6"/>
<line x1="455.2" y1="1242.8" x2="455.2" y2="1233.0" stroke="#000" stroke-width="2.6"/>
<line x1="451.6" y1="1233.0" x2="458.8" y2="1233.0" stroke="#000" stroke-width="2.7"/>
<rect x="446.4" y="1242.8" width="17.6" height="62.7" fill="#222" stroke="#000" stroke-width="2.6"/>
<line x1="492.1" y1="1107.9" x2="492.1" y2="1091.7" stroke="#000" stroke-width="2.6"/>
<line x1="488.5" y1="1091.7" x2="495.7" y2="1091.7" stroke="#000" stroke-width="2.7"/>
<rect x="483.3" y="1107.9" width="17.6" height="197.6" fill="#e8e8e8" stroke="#000" stroke-width="2.6"/>
<line x1="509.6" y1="1212.3" x2="509.6" y2="1200.8" stroke="#000" stroke-width="2.6"/>
<line x1="506.0" y1="1200.8" x2="513.2" y2="1200.8" stroke="#000" stroke-width="2.7"/>
<rect x="500.8" y="1212.3" width="17.6" height="93.2" fill="#222" stroke="#000" stroke-width="2.6"/>
<line x1="546.6" y1="1067.4" x2="546.6" y2="1049.4" stroke="#000" stroke-width="2.6"/>
<line x1="543.0" y1="1049.4" x2="550.2" y2="1049.4" stroke="#000" stroke-width="2.7"/>
<rect x="537.8" y="1067.4" width="17.6" height="238.1" fill="#e8e8e8" stroke="#000" stroke-width="2.6"/>
<line x1="564.1" y1="1176.7" x2="564.1" y2="1164.8" stroke="#000" stroke-width="2.6"/>
<line x1="560.5" y1="1164.8" x2="567.7" y2="1164.8" stroke="#000" stroke-width="2.7"/>
<rect x="555.3" y="1176.7" width="17.6" height="128.8" fill="#222" stroke="#000" stroke-width="2.6"/>
<line x1="92.7" y1="999.5" x2="92.7" y2="1307.0" stroke="#000" stroke-width="3"/>
<line x1="87.3" y1="1305.5" x2="580.0" y2="1305.5" stroke="#000" stroke-width="3"/>
<line x1="87.3" y1="1305.5" x2="92.7" y2="1305.5" stroke="#000" stroke-width="3"/>
<text x="81.7" y="1314.1" font-size="24" font-weight="bold" text-anchor="end">0</text>
<line x1="87.3" y1="1244.6" x2="92.7" y2="1244.6" stroke="#000" stroke-width="3"/>
<text x="81.7" y="1253.2" font-size="24" font-weight="bold" text-anchor="end">20</text>
<line x1="87.3" y1="1183.7" x2="92.7" y2="1183.7" stroke="#000" stroke-width="3"/>
<text x="81.7" y="1192.3" font-size="24" font-weight="bold" text-anchor="end">40</text>
<line x1="87.3" y1="1122.8" x2="92.7" y2="1122.8" stroke="#000" stroke-width="3"/>
<text x="81.7" y="1131.4" font-size="24" font-weight="bold" text-anchor="end">60</text>
<line x1="87.3" y1="1061.9" x2="92.7" y2="1061.9" stroke="#000" stroke-width="3"/>
<text x="81.7" y="1070.5" font-size="24" font-weight="bold" text-anchor="end">80</text>
<line x1="87.3" y1="1001.0" x2="92.7" y2="1001.0" stroke="#000" stroke-width="3"/>
<text x="81.7" y="1009.6" font-size="24" font-weight="bold" text-anchor="end">100</text>
<line x1="119.4" y1="1305.5" x2="119.4" y2="1311.0" stroke="#000" stroke-width="3"/>
<text x="119.4" y="1337.8" font-size="24" font-weight="bold" text-anchor="middle">0</text>
<line x1="173.8" y1="1305.5" x2="173.8" y2="1311.0" stroke="#000" stroke-width="3"/>
<text x="173.8" y="1337.8" font-size="24" font-weight="bold" text-anchor="middle">3</text>
<line x1="228.2" y1="1305.5" x2="228.2" y2="1311.0" stroke="#000" stroke-width="3"/>
<text x="228.2" y="1337.8" font-size="24" font-weight="bold" text-anchor="middle">6</text>
<line x1="282.7" y1="1305.5" x2="282.7" y2="1311.0" stroke="#000" stroke-width="3"/>
<text x="282.7" y="1337.8" font-size="24" font-weight="bold" text-anchor="middle">9</text>
<line x1="337.1" y1="1305.5" x2="337.1" y2="1311.0" stroke="#000" stroke-width="3"/>
<text x="337.1" y="1337.8" font-size="24" font-weight="bold" text-anchor="middle">12</text>
<line x1="391.5" y1="1305.5" x2="391.5" y2="1311.0" stroke="#000" stroke-width="3"/>
<text x="391.5" y="1337.8" font-size="24" font-weight="bold" text-anchor="middle">15</text>
<line x1="445.9" y1="1305.5" x2="445.9" y2="1311.0" stroke="#000" stroke-width="3"/>
<text x="445.9" y="1337.8" font-size="24" font-weight="bold" text-anchor="middle">18</text>
<line x1="500.3" y1="1305.5" x2="500.3" y2="1311.0" stroke="#000" stroke-width="3"/>
<text x="500.3" y="1337.8" font-size="24" font-weight="bold" text-anchor="middle">21</text>
<line x1="554.8" y1="1305.5" x2="554.8" y2="1311.0" stroke="#000" stroke-width="3"/>
<text x="554.8" y="1337.8" font-size="24" font-weight="bold" text-anchor="middle">24</text>
<rect x="108.3" y="1001.2" width="33.6" height="11.2" fill="#e8e8e8" stroke="#000" stroke-width="2.7"/>
<rect x="107.8" y="1028.3" width="33.5" height="11.2" fill="#222" stroke="#000" stroke-width="2.7"/>
<text x="159.8" y="1014.6" font-size="21">siNS</text>
<text x="159.3" y="1041.3" font-size="21">siCYLD</text>
<path d="M237.2,1008.4 L245.8,1008.4 L245.8,1035.8 L237.2,1035.8" stroke="#000" stroke-width="2.7" fill="none"/>
<text x="254.5" y="1032.3" font-size="21" font-weight="bold">**</text>
<text x="458.7" y="1015" font-size="21.5" font-weight="bold"><tspan font-style="italic">A20</tspan><tspan font-size="14.5" dy="-8.5" font-style="italic">-/-</tspan><tspan dy="8.5"> MEF</tspan></text>
<text transform="translate(18.7,1158.7) rotate(-90)" font-size="26" font-weight="bold" text-anchor="middle">% Cell Death (SG+)</text>
<text x="336.9" y="1390.6" font-size="25" font-weight="bold" text-anchor="middle">Hours mTNF treatment</text>
<text x="662.2" y="956.9" font-size="36" font-weight="bold">D</text>
<line x1="761.7" y1="1304.9" x2="761.7" y2="1304.3" stroke="#000" stroke-width="2.6"/>
<line x1="758.1" y1="1304.3" x2="765.3" y2="1304.3" stroke="#000" stroke-width="2.7"/>
<rect x="752.9" y="1304.9" width="17.6" height="0.6" fill="#222" stroke="#000" stroke-width="2.6"/>
<line x1="816.1" y1="1304.3" x2="816.1" y2="1303.7" stroke="#000" stroke-width="2.6"/>
<line x1="812.5" y1="1303.7" x2="819.7" y2="1303.7" stroke="#000" stroke-width="2.7"/>
<rect x="807.3" y="1304.3" width="17.6" height="1.2" fill="#222" stroke="#000" stroke-width="2.6"/>
<line x1="870.5" y1="1303.7" x2="870.5" y2="1303.1" stroke="#000" stroke-width="2.6"/>
<line x1="866.9" y1="1303.1" x2="874.1" y2="1303.1" stroke="#000" stroke-width="2.7"/>
<rect x="861.7" y="1303.7" width="17.6" height="1.8" fill="#222" stroke="#000" stroke-width="2.6"/>
<line x1="907.5" y1="1304.3" x2="907.5" y2="1303.4" stroke="#000" stroke-width="2.6"/>
<line x1="903.9" y1="1303.4" x2="911.1" y2="1303.4" stroke="#000" stroke-width="2.7"/>
<rect x="898.7" y="1304.3" width="17.6" height="1.2" fill="#e8e8e8" stroke="#000" stroke-width="2.6"/>
<line x1="925.0" y1="1303.7" x2="925.0" y2="1303.1" stroke="#000" stroke-width="2.6"/>
<line x1="921.4" y1="1303.1" x2="928.6" y2="1303.1" stroke="#000" stroke-width="2.7"/>
<rect x="916.2" y="1303.7" width="17.6" height="1.8" fill="#222" stroke="#000" stroke-width="2.6"/>
<line x1="961.9" y1="1297.6" x2="961.9" y2="1292.1" stroke="#000" stroke-width="2.6"/>
<line x1="958.3" y1="1292.1" x2="965.5" y2="1292.1" stroke="#000" stroke-width="2.7"/>
<rect x="953.1" y="1297.6" width="17.6" height="7.9" fill="#e8e8e8" stroke="#000" stroke-width="2.6"/>
<line x1="1016.3" y1="1275.7" x2="1016.3" y2="1261.7" stroke="#000" stroke-width="2.6"/>
<line x1="1012.7" y1="1261.7" x2="1019.9" y2="1261.7" stroke="#000" stroke-width="2.7"/>
<rect x="1007.5" y="1275.7" width="17.6" height="29.8" fill="#e8e8e8" stroke="#000" stroke-width="2.6"/>
<line x1="1070.7" y1="1231.2" x2="1070.7" y2="1209.3" stroke="#000" stroke-width="2.6"/>
<line x1="1067.1" y1="1209.3" x2="1074.3" y2="1209.3" stroke="#000" stroke-width="2.7"/>
<rect x="1061.9" y="1231.2" width="17.6" height="74.3" fill="#e8e8e8" stroke="#000" stroke-width="2.6"/>
<line x1="1088.2" y1="1300.0" x2="1088.2" y2="1284.8" stroke="#000" stroke-width="2.6"/>
<line x1="1084.6" y1="1284.8" x2="1091.8" y2="1284.8" stroke="#000" stroke-width="2.7"/>
<rect x="1079.4" y="1300.0" width="17.6" height="5.5" fill="#222" stroke="#000" stroke-width="2.6"/>
<line x1="1125.1" y1="1170.3" x2="1125.1" y2="1140.5" stroke="#000" stroke-width="2.6"/>
<line x1="1121.5" y1="1140.5" x2="1128.7" y2="1140.5" stroke="#000" stroke-width="2.7"/>
<rect x="1116.3" y="1170.3" width="17.6" height="135.2" fill="#e8e8e8" stroke="#000" stroke-width="2.6"/>
<line x1="1142.6" y1="1277.5" x2="1142.6" y2="1258.0" stroke="#000" stroke-width="2.6"/>
<line x1="1139.0" y1="1258.0" x2="1146.2" y2="1258.0" stroke="#000" stroke-width="2.7"/>
<rect x="1133.8" y="1277.5" width="17.6" height="28.0" fill="#222" stroke="#000" stroke-width="2.6"/>
<line x1="1179.6" y1="1096.0" x2="1179.6" y2="1058.9" stroke="#000" stroke-width="2.6"/>
<line x1="1176.0" y1="1058.9" x2="1183.2" y2="1058.9" stroke="#000" stroke-width="2.7"/>
<rect x="1170.8" y="1096.0" width="17.6" height="209.5" fill="#e8e8e8" stroke="#000" stroke-width="2.6"/>
<line x1="1197.1" y1="1242.8" x2="1197.1" y2="1217.2" stroke="#000" stroke-width="2.6"/>
<line x1="1193.5" y1="1217.2" x2="1200.7" y2="1217.2" stroke="#000" stroke-width="2.7"/>
<rect x="1188.3" y="1242.8" width="17.6" height="62.7" fill="#222" stroke="#000" stroke-width="2.6"/>
<line x1="726.0" y1="999.5" x2="726.0" y2="1307.0" stroke="#000" stroke-width="3"/>
<line x1="720.6" y1="1305.5" x2="1213.2" y2="1305.5" stroke="#000" stroke-width="3"/>
<line x1="720.6" y1="1305.5" x2="726.0" y2="1305.5" stroke="#000" stroke-width="3"/>
<text x="715.0" y="1314.1" font-size="24" font-weight="bold" text-anchor="end">0</text>
<line x1="720.6" y1="1244.6" x2="726.0" y2="1244.6" stroke="#000" stroke-width="3"/>
<text x="715.0" y="1253.2" font-size="24" font-weight="bold" text-anchor="end">10</text>
<line x1="720.6" y1="1183.7" x2="726.0" y2="1183.7" stroke="#000" stroke-width="3"/>
<text x="715.0" y="1192.3" font-size="24" font-weight="bold" text-anchor="end">20</text>
<line x1="720.6" y1="1122.8" x2="726.0" y2="1122.8" stroke="#000" stroke-width="3"/>
<text x="715.0" y="1131.4" font-size="24" font-weight="bold" text-anchor="end">30</text>
<line x1="720.6" y1="1061.9" x2="726.0" y2="1061.9" stroke="#000" stroke-width="3"/>
<text x="715.0" y="1070.5" font-size="24" font-weight="bold" text-anchor="end">40</text>
<line x1="720.6" y1="1001.0" x2="726.0" y2="1001.0" stroke="#000" stroke-width="3"/>
<text x="715.0" y="1009.6" font-size="24" font-weight="bold" text-anchor="end">50</text>
<line x1="752.4" y1="1305.5" x2="752.4" y2="1311.0" stroke="#000" stroke-width="3"/>
<text x="752.4" y="1337.8" font-size="24" font-weight="bold" text-anchor="middle">0</text>
<line x1="806.8" y1="1305.5" x2="806.8" y2="1311.0" stroke="#000" stroke-width="3"/>
<text x="806.8" y="1337.8" font-size="24" font-weight="bold" text-anchor="middle">3</text>
<line x1="861.2" y1="1305.5" x2="861.2" y2="1311.0" stroke="#000" stroke-width="3"/>
<text x="861.2" y="1337.8" font-size="24" font-weight="bold" text-anchor="middle">6</text>
<line x1="915.7" y1="1305.5" x2="915.7" y2="1311.0" stroke="#000" stroke-width="3"/>
<text x="915.7" y="1337.8" font-size="24" font-weight="bold" text-anchor="middle">9</text>
<line x1="970.1" y1="1305.5" x2="970.1" y2="1311.0" stroke="#000" stroke-width="3"/>
<text x="970.1" y="1337.8" font-size="24" font-weight="bold" text-anchor="middle">12</text>
<line x1="1024.5" y1="1305.5" x2="1024.5" y2="1311.0" stroke="#000" stroke-width="3"/>
<text x="1024.5" y="1337.8" font-size="24" font-weight="bold" text-anchor="middle">15</text>
<line x1="1078.9" y1="1305.5" x2="1078.9" y2="1311.0" stroke="#000" stroke-width="3"/>
<text x="1078.9" y="1337.8" font-size="24" font-weight="bold" text-anchor="middle">18</text>
<line x1="1133.3" y1="1305.5" x2="1133.3" y2="1311.0" stroke="#000" stroke-width="3"/>
<text x="1133.3" y="1337.8" font-size="24" font-weight="bold" text-anchor="middle">21</text>
<line x1="1187.8" y1="1305.5" x2="1187.8" y2="1311.0" stroke="#000" stroke-width="3"/>
<text x="1187.8" y="1337.8" font-size="24" font-weight="bold" text-anchor="middle">24</text>
<rect x="741.6" y="1001.2" width="33.6" height="11.2" fill="#e8e8e8" stroke="#000" stroke-width="2.7"/>
<rect x="741.1" y="1028.3" width="33.5" height="11.2" fill="#222" stroke="#000" stroke-width="2.7"/>
<text x="793.1" y="1014.6" font-size="21">siNS</text>
<text x="792.6" y="1041.3" font-size="21">siCYLD</text>
<path d="M870.5,1008.4 L879.1,1008.4 L879.1,1035.8 L870.5,1035.8" stroke="#000" stroke-width="2.7" fill="none"/>
<text x="887.8" y="1032.3" font-size="21" font-weight="bold">*</text>
<text x="1091.2" y="1015" font-size="21.5" font-weight="bold"><tspan font-style="italic">A20</tspan><tspan font-size="14.5" dy="-8.5" font-style="italic">-/-</tspan><tspan dy="8.5"> MEF</tspan></text>
<text transform="translate(652.0,1158.7) rotate(-90)" font-size="26" font-weight="bold" text-anchor="middle">% Cell Death (SG+)</text>
<text x="969.9" y="1390.6" font-size="25" font-weight="bold" text-anchor="middle">Hours mTNF+Nec1s treatment</text>
<text x="1271.6" y="958.7" font-size="36" font-weight="bold">E</text>
<line x1="1432.8" y1="1304.6" x2="1432.8" y2="1301.5" stroke="#000" stroke-width="2.6"/>
<line x1="1429.2" y1="1301.5" x2="1436.4" y2="1301.5" stroke="#000" stroke-width="2.7"/>
<rect x="1424.0" y="1304.6" width="17.6" height="1.8" fill="#e8e8e8" stroke="#000" stroke-width="2.6"/>
<line x1="1450.3" y1="1304.6" x2="1450.3" y2="1302.4" stroke="#000" stroke-width="2.6"/>
<line x1="1446.7" y1="1302.4" x2="1453.9" y2="1302.4" stroke="#000" stroke-width="2.7"/>
<rect x="1441.5" y="1304.6" width="17.6" height="1.8" fill="#222" stroke="#000" stroke-width="2.6"/>
<line x1="1487.2" y1="1292.1" x2="1487.2" y2="1287.8" stroke="#000" stroke-width="2.6"/>
<line x1="1483.6" y1="1287.8" x2="1490.8" y2="1287.8" stroke="#000" stroke-width="2.7"/>
<rect x="1478.4" y="1292.1" width="17.6" height="14.3" fill="#e8e8e8" stroke="#000" stroke-width="2.6"/>
<line x1="1504.7" y1="1294.8" x2="1504.7" y2="1290.3" stroke="#000" stroke-width="2.6"/>
<line x1="1501.1" y1="1290.3" x2="1508.3" y2="1290.3" stroke="#000" stroke-width="2.7"/>
<rect x="1495.9" y="1294.8" width="17.6" height="11.6" fill="#222" stroke="#000" stroke-width="2.6"/>
<line x1="1541.7" y1="1247.3" x2="1541.7" y2="1239.4" stroke="#000" stroke-width="2.6"/>
<line x1="1538.1" y1="1239.4" x2="1545.3" y2="1239.4" stroke="#000" stroke-width="2.7"/>
<rect x="1532.9" y="1247.3" width="17.6" height="59.1" fill="#e8e8e8" stroke="#000" stroke-width="2.6"/>
<line x1="1559.2" y1="1282.3" x2="1559.2" y2="1276.0" stroke="#000" stroke-width="2.6"/>
<line x1="1555.6" y1="1276.0" x2="1562.8" y2="1276.0" stroke="#000" stroke-width="2.7"/>
<rect x="1550.4" y="1282.3" width="17.6" height="24.1" fill="#222" stroke="#000" stroke-width="2.6"/>
<line x1="1596.1" y1="1184.6" x2="1596.1" y2="1175.8" stroke="#000" stroke-width="2.6"/>
<line x1="1592.5" y1="1175.8" x2="1599.7" y2="1175.8" stroke="#000" stroke-width="2.7"/>
<rect x="1587.3" y="1184.6" width="17.6" height="121.8" fill="#e8e8e8" stroke="#000" stroke-width="2.6"/>
<line x1="1613.6" y1="1265.6" x2="1613.6" y2="1257.4" stroke="#000" stroke-width="2.6"/>
<line x1="1610.0" y1="1257.4" x2="1617.2" y2="1257.4" stroke="#000" stroke-width="2.7"/>
<rect x="1604.8" y="1265.6" width="17.6" height="40.8" fill="#222" stroke="#000" stroke-width="2.6"/>
<line x1="1650.5" y1="1130.7" x2="1650.5" y2="1123.1" stroke="#000" stroke-width="2.6"/>
<line x1="1646.9" y1="1123.1" x2="1654.1" y2="1123.1" stroke="#000" stroke-width="2.7"/>
<rect x="1641.7" y="1130.7" width="17.6" height="175.7" fill="#e8e8e8" stroke="#000" stroke-width="2.6"/>
<line x1="1668.0" y1="1253.7" x2="1668.0" y2="1242.5" stroke="#000" stroke-width="2.6"/>
<line x1="1664.4" y1="1242.5" x2="1671.6" y2="1242.5" stroke="#000" stroke-width="2.7"/>
<rect x="1659.2" y="1253.7" width="17.6" height="52.7" fill="#222" stroke="#000" stroke-width="2.6"/>
<line x1="1704.9" y1="1095.1" x2="1704.9" y2="1087.8" stroke="#000" stroke-width="2.6"/>
<line x1="1701.3" y1="1087.8" x2="1708.5" y2="1087.8" stroke="#000" stroke-width="2.7"/>
<rect x="1696.1" y="1095.1" width="17.6" height="211.3" fill="#e8e8e8" stroke="#000" stroke-width="2.6"/>
<line x1="1722.4" y1="1244.0" x2="1722.4" y2="1231.5" stroke="#000" stroke-width="2.6"/>
<line x1="1718.8" y1="1231.5" x2="1726.0" y2="1231.5" stroke="#000" stroke-width="2.7"/>
<rect x="1713.6" y="1244.0" width="17.6" height="62.4" fill="#222" stroke="#000" stroke-width="2.6"/>
<line x1="1759.3" y1="1074.1" x2="1759.3" y2="1069.2" stroke="#000" stroke-width="2.6"/>
<line x1="1755.7" y1="1069.2" x2="1762.9" y2="1069.2" stroke="#000" stroke-width="2.7"/>
<rect x="1750.5" y="1074.1" width="17.6" height="232.3" fill="#e8e8e8" stroke="#000" stroke-width="2.6"/>
<line x1="1776.8" y1="1237.0" x2="1776.8" y2="1224.5" stroke="#000" stroke-width="2.6"/>
<line x1="1773.2" y1="1224.5" x2="1780.4" y2="1224.5" stroke="#000" stroke-width="2.7"/>
<rect x="1768.0" y="1237.0" width="17.6" height="69.4" fill="#222" stroke="#000" stroke-width="2.6"/>
<line x1="1813.8" y1="1059.1" x2="1813.8" y2="1053.7" stroke="#000" stroke-width="2.6"/>
<line x1="1810.2" y1="1053.7" x2="1817.4" y2="1053.7" stroke="#000" stroke-width="2.7"/>
<rect x="1805.0" y="1059.1" width="17.6" height="247.3" fill="#e8e8e8" stroke="#000" stroke-width="2.6"/>
<line x1="1831.3" y1="1233.3" x2="1831.3" y2="1219.9" stroke="#000" stroke-width="2.6"/>
<line x1="1827.7" y1="1219.9" x2="1834.9" y2="1219.9" stroke="#000" stroke-width="2.7"/>
<rect x="1822.5" y="1233.3" width="17.6" height="73.1" fill="#222" stroke="#000" stroke-width="2.6"/>
<line x1="1360.1" y1="1000.4" x2="1360.1" y2="1307.9" stroke="#000" stroke-width="3"/>
<line x1="1354.5" y1="1306.4" x2="1847.9" y2="1306.4" stroke="#000" stroke-width="3"/>
<line x1="1354.7" y1="1306.4" x2="1360.1" y2="1306.4" stroke="#000" stroke-width="3"/>
<text x="1349.1" y="1315.0" font-size="24" font-weight="bold" text-anchor="end">0</text>
<line x1="1354.7" y1="1245.5" x2="1360.1" y2="1245.5" stroke="#000" stroke-width="3"/>
<text x="1349.1" y="1254.1" font-size="24" font-weight="bold" text-anchor="end">20</text>
<line x1="1354.7" y1="1184.6" x2="1360.1" y2="1184.6" stroke="#000" stroke-width="3"/>
<text x="1349.1" y="1193.2" font-size="24" font-weight="bold" text-anchor="end">40</text>
<line x1="1354.7" y1="1123.7" x2="1360.1" y2="1123.7" stroke="#000" stroke-width="3"/>
<text x="1349.1" y="1132.3" font-size="24" font-weight="bold" text-anchor="end">60</text>
<line x1="1354.7" y1="1062.8" x2="1360.1" y2="1062.8" stroke="#000" stroke-width="3"/>
<text x="1349.1" y="1071.4" font-size="24" font-weight="bold" text-anchor="end">80</text>
<line x1="1354.7" y1="1001.9" x2="1360.1" y2="1001.9" stroke="#000" stroke-width="3"/>
<text x="1349.1" y="1010.5" font-size="24" font-weight="bold" text-anchor="end">100</text>
<line x1="1386.6" y1="1306.4" x2="1386.6" y2="1311.9" stroke="#000" stroke-width="3"/>
<text x="1386.6" y="1338.7" font-size="24" font-weight="bold" text-anchor="middle">0</text>
<line x1="1441.0" y1="1306.4" x2="1441.0" y2="1311.9" stroke="#000" stroke-width="3"/>
<text x="1441.0" y="1338.7" font-size="24" font-weight="bold" text-anchor="middle">3</text>
<line x1="1495.4" y1="1306.4" x2="1495.4" y2="1311.9" stroke="#000" stroke-width="3"/>
<text x="1495.4" y="1338.7" font-size="24" font-weight="bold" text-anchor="middle">6</text>
<line x1="1549.9" y1="1306.4" x2="1549.9" y2="1311.9" stroke="#000" stroke-width="3"/>
<text x="1549.9" y="1338.7" font-size="24" font-weight="bold" text-anchor="middle">9</text>
<line x1="1604.3" y1="1306.4" x2="1604.3" y2="1311.9" stroke="#000" stroke-width="3"/>
<text x="1604.3" y="1338.7" font-size="24" font-weight="bold" text-anchor="middle">12</text>
<line x1="1658.7" y1="1306.4" x2="1658.7" y2="1311.9" stroke="#000" stroke-width="3"/>
<text x="1658.7" y="1338.7" font-size="24" font-weight="bold" text-anchor="middle">15</text>
<line x1="1713.1" y1="1306.4" x2="1713.1" y2="1311.9" stroke="#000" stroke-width="3"/>
<text x="1713.1" y="1338.7" font-size="24" font-weight="bold" text-anchor="middle">18</text>
<line x1="1767.5" y1="1306.4" x2="1767.5" y2="1311.9" stroke="#000" stroke-width="3"/>
<text x="1767.5" y="1338.7" font-size="24" font-weight="bold" text-anchor="middle">21</text>
<line x1="1822.0" y1="1306.4" x2="1822.0" y2="1311.9" stroke="#000" stroke-width="3"/>
<text x="1822.0" y="1338.7" font-size="24" font-weight="bold" text-anchor="middle">24</text>
<rect x="1377.8" y="1001.2" width="33.6" height="11.2" fill="#e8e8e8" stroke="#000" stroke-width="2.7"/>
<rect x="1377.3" y="1028.3" width="33.5" height="11.2" fill="#222" stroke="#000" stroke-width="2.7"/>
<text x="1429.3" y="1014.6" font-size="21">siNS</text>
<text x="1428.8" y="1041.3" font-size="21">siCYLD</text>
<path d="M1506.7,1008.4 L1515.3,1008.4 L1515.3,1035.8 L1506.7,1035.8" stroke="#000" stroke-width="2.7" fill="none"/>
<text x="1524.0" y="1032.3" font-size="21" font-weight="bold">***</text>
<text x="1713.0" y="1015" font-size="21.5" font-weight="bold"><tspan font-style="italic">A20</tspan><tspan font-size="14.5" dy="-8.5" font-style="italic">-/-</tspan><tspan dy="8.5"> HaCaT</tspan></text>
<text transform="translate(1286.1,1158.7) rotate(-90)" font-size="26" font-weight="bold" text-anchor="middle">% Cell Death (SG+)</text>
<text x="1604.6" y="1390.6" font-size="25" font-weight="bold" text-anchor="middle">Hours hTNF+CHX treatment</text>
<text x="15.0" y="1503.7" font-size="36" font-weight="bold">F</text>
<line x1="305.0" y1="1782.7" x2="305.0" y2="1770.5" stroke="#1a1a1a" stroke-width="3.2"/>
<line x1="299.2" y1="1770.5" x2="310.8" y2="1770.5" stroke="#1a1a1a" stroke-width="3.2"/>
<line x1="299.2" y1="1782.7" x2="310.8" y2="1782.7" stroke="#1a1a1a" stroke-width="3.2"/>
<line x1="326.4" y1="1780.6" x2="326.4" y2="1766.4" stroke="#1a1a1a" stroke-width="3.2"/>
<line x1="320.6" y1="1766.4" x2="332.2" y2="1766.4" stroke="#1a1a1a" stroke-width="3.2"/>
<line x1="320.6" y1="1780.6" x2="332.2" y2="1780.6" stroke="#1a1a1a" stroke-width="3.2"/>
<line x1="347.9" y1="1777.6" x2="347.9" y2="1761.3" stroke="#1a1a1a" stroke-width="3.2"/>
<line x1="342.1" y1="1761.3" x2="353.7" y2="1761.3" stroke="#1a1a1a" stroke-width="3.2"/>
<line x1="342.1" y1="1777.6" x2="353.7" y2="1777.6" stroke="#1a1a1a" stroke-width="3.2"/>
<line x1="369.4" y1="1774.0" x2="369.4" y2="1756.7" stroke="#1a1a1a" stroke-width="3.2"/>
<line x1="363.6" y1="1756.7" x2="375.2" y2="1756.7" stroke="#1a1a1a" stroke-width="3.2"/>
<line x1="363.6" y1="1774.0" x2="375.2" y2="1774.0" stroke="#1a1a1a" stroke-width="3.2"/>
<line x1="390.9" y1="1770.5" x2="390.9" y2="1752.2" stroke="#1a1a1a" stroke-width="3.2"/>
<line x1="385.1" y1="1752.2" x2="396.7" y2="1752.2" stroke="#1a1a1a" stroke-width="3.2"/>
<line x1="385.1" y1="1770.5" x2="396.7" y2="1770.5" stroke="#1a1a1a" stroke-width="3.2"/>
<line x1="412.3" y1="1768.4" x2="412.3" y2="1748.1" stroke="#1a1a1a" stroke-width="3.2"/>
<line x1="406.5" y1="1748.1" x2="418.1" y2="1748.1" stroke="#1a1a1a" stroke-width="3.2"/>
<line x1="406.5" y1="1768.4" x2="418.1" y2="1768.4" stroke="#1a1a1a" stroke-width="3.2"/>
<line x1="433.8" y1="1765.4" x2="433.8" y2="1743.0" stroke="#1a1a1a" stroke-width="3.2"/>
<line x1="428.0" y1="1743.0" x2="439.6" y2="1743.0" stroke="#1a1a1a" stroke-width="3.2"/>
<line x1="428.0" y1="1765.4" x2="439.6" y2="1765.4" stroke="#1a1a1a" stroke-width="3.2"/>
<line x1="455.3" y1="1763.4" x2="455.3" y2="1738.9" stroke="#1a1a1a" stroke-width="3.2"/>
<line x1="449.5" y1="1738.9" x2="461.1" y2="1738.9" stroke="#1a1a1a" stroke-width="3.2"/>
<line x1="449.5" y1="1763.4" x2="461.1" y2="1763.4" stroke="#1a1a1a" stroke-width="3.2"/>
<line x1="476.8" y1="1760.3" x2="476.8" y2="1735.9" stroke="#1a1a1a" stroke-width="3.2"/>
<line x1="471.0" y1="1735.9" x2="482.6" y2="1735.9" stroke="#1a1a1a" stroke-width="3.2"/>
<line x1="471.0" y1="1760.3" x2="482.6" y2="1760.3" stroke="#1a1a1a" stroke-width="3.2"/>
<line x1="498.2" y1="1759.3" x2="498.2" y2="1732.8" stroke="#1a1a1a" stroke-width="3.2"/>
<line x1="492.4" y1="1732.8" x2="504.0" y2="1732.8" stroke="#1a1a1a" stroke-width="3.2"/>
<line x1="492.4" y1="1759.3" x2="504.0" y2="1759.3" stroke="#1a1a1a" stroke-width="3.2"/>
<line x1="519.7" y1="1756.7" x2="519.7" y2="1729.3" stroke="#1a1a1a" stroke-width="3.2"/>
<line x1="513.9" y1="1729.3" x2="525.5" y2="1729.3" stroke="#1a1a1a" stroke-width="3.2"/>
<line x1="513.9" y1="1756.7" x2="525.5" y2="1756.7" stroke="#1a1a1a" stroke-width="3.2"/>
<line x1="541.2" y1="1754.2" x2="541.2" y2="1725.7" stroke="#1a1a1a" stroke-width="3.2"/>
<line x1="535.4" y1="1725.7" x2="547.0" y2="1725.7" stroke="#1a1a1a" stroke-width="3.2"/>
<line x1="535.4" y1="1754.2" x2="547.0" y2="1754.2" stroke="#1a1a1a" stroke-width="3.2"/>
<path d="M111.7,1816.3 L133.2,1813.7 L154.6,1810.2 L176.1,1806.1 L197.6,1801.0 L219.1,1795.9 L240.5,1790.8 L262.0,1785.7 L283.5,1781.7 L305.0,1776.6 L326.4,1773.5 L347.9,1769.5 L369.4,1765.4 L390.9,1761.3 L412.3,1758.3 L433.8,1754.2 L455.3,1751.1 L476.8,1748.1 L498.2,1746.1 L519.7,1743.0 L541.2,1740.0" stroke="#1a1a1a" stroke-width="3" fill="none"/>
<path d="M111.7,1809.5 L118.0,1820.8 L105.5,1820.8 Z" fill="#1a1a1a"/>
<path d="M133.2,1807.0 L139.4,1818.2 L126.9,1818.2 Z" fill="#1a1a1a"/>
<path d="M154.6,1803.4 L160.9,1814.7 L148.4,1814.7 Z" fill="#1a1a1a"/>
<path d="M176.1,1799.3 L182.4,1810.6 L169.9,1810.6 Z" fill="#1a1a1a"/>
<path d="M197.6,1794.2 L203.8,1805.5 L191.3,1805.5 Z" fill="#1a1a1a"/>
<path d="M219.1,1789.2 L225.3,1800.4 L212.8,1800.4 Z" fill="#1a1a1a"/>
<path d="M240.5,1784.1 L246.8,1795.3 L234.3,1795.3 Z" fill="#1a1a1a"/>
<path d="M262.0,1779.0 L268.3,1790.2 L255.8,1790.2 Z" fill="#1a1a1a"/>
<path d="M283.5,1774.9 L289.7,1786.2 L277.2,1786.2 Z" fill="#1a1a1a"/>
<path d="M305.0,1769.8 L311.2,1781.1 L298.7,1781.1 Z" fill="#1a1a1a"/>
<path d="M326.4,1766.8 L332.7,1778.0 L320.2,1778.0 Z" fill="#1a1a1a"/>
<path d="M347.9,1762.7 L354.2,1774.0 L341.7,1774.0 Z" fill="#1a1a1a"/>
<path d="M369.4,1758.6 L375.6,1769.9 L363.1,1769.9 Z" fill="#1a1a1a"/>
<path d="M390.9,1754.6 L397.1,1765.8 L384.6,1765.8 Z" fill="#1a1a1a"/>
<path d="M412.3,1751.5 L418.6,1762.8 L406.1,1762.8 Z" fill="#1a1a1a"/>
<path d="M433.8,1747.4 L440.1,1758.7 L427.6,1758.7 Z" fill="#1a1a1a"/>
<path d="M455.3,1744.4 L461.5,1755.6 L449.0,1755.6 Z" fill="#1a1a1a"/>
<path d="M476.8,1741.3 L483.0,1752.6 L470.5,1752.6 Z" fill="#1a1a1a"/>
<path d="M498.2,1739.3 L504.5,1750.6 L492.0,1750.6 Z" fill="#1a1a1a"/>
<path d="M519.7,1736.3 L526.0,1747.5 L513.5,1747.5 Z" fill="#1a1a1a"/>
<path d="M541.2,1733.2 L547.4,1744.5 L534.9,1744.5 Z" fill="#1a1a1a"/>
<line x1="176.1" y1="1788.8" x2="176.1" y2="1768.4" stroke="#961400" stroke-width="3.2"/>
<line x1="170.3" y1="1768.4" x2="181.9" y2="1768.4" stroke="#961400" stroke-width="3.2"/>
<line x1="170.3" y1="1788.8" x2="181.9" y2="1788.8" stroke="#961400" stroke-width="3.2"/>
<line x1="197.6" y1="1775.6" x2="197.6" y2="1747.1" stroke="#961400" stroke-width="3.2"/>
<line x1="191.8" y1="1747.1" x2="203.4" y2="1747.1" stroke="#961400" stroke-width="3.2"/>
<line x1="191.8" y1="1775.6" x2="203.4" y2="1775.6" stroke="#961400" stroke-width="3.2"/>
<line x1="219.1" y1="1760.8" x2="219.1" y2="1723.2" stroke="#961400" stroke-width="3.2"/>
<line x1="213.3" y1="1723.2" x2="224.9" y2="1723.2" stroke="#961400" stroke-width="3.2"/>
<line x1="213.3" y1="1760.8" x2="224.9" y2="1760.8" stroke="#961400" stroke-width="3.2"/>
<line x1="240.5" y1="1751.1" x2="240.5" y2="1700.3" stroke="#961400" stroke-width="3.2"/>
<line x1="234.7" y1="1700.3" x2="246.3" y2="1700.3" stroke="#961400" stroke-width="3.2"/>
<line x1="234.7" y1="1751.1" x2="246.3" y2="1751.1" stroke="#961400" stroke-width="3.2"/>
<line x1="262.0" y1="1736.9" x2="262.0" y2="1679.9" stroke="#961400" stroke-width="3.2"/>
<line x1="256.2" y1="1679.9" x2="267.8" y2="1679.9" stroke="#961400" stroke-width="3.2"/>
<line x1="256.2" y1="1736.9" x2="267.8" y2="1736.9" stroke="#961400" stroke-width="3.2"/>
<line x1="283.5" y1="1723.7" x2="283.5" y2="1660.6" stroke="#961400" stroke-width="3.2"/>
<line x1="277.7" y1="1660.6" x2="289.3" y2="1660.6" stroke="#961400" stroke-width="3.2"/>
<line x1="277.7" y1="1723.7" x2="289.3" y2="1723.7" stroke="#961400" stroke-width="3.2"/>
<line x1="305.0" y1="1709.4" x2="305.0" y2="1644.3" stroke="#961400" stroke-width="3.2"/>
<line x1="299.2" y1="1644.3" x2="310.8" y2="1644.3" stroke="#961400" stroke-width="3.2"/>
<line x1="299.2" y1="1709.4" x2="310.8" y2="1709.4" stroke="#961400" stroke-width="3.2"/>
<line x1="326.4" y1="1701.3" x2="326.4" y2="1632.1" stroke="#961400" stroke-width="3.2"/>
<line x1="320.6" y1="1632.1" x2="332.2" y2="1632.1" stroke="#961400" stroke-width="3.2"/>
<line x1="320.6" y1="1701.3" x2="332.2" y2="1701.3" stroke="#961400" stroke-width="3.2"/>
<line x1="347.9" y1="1689.1" x2="347.9" y2="1617.9" stroke="#961400" stroke-width="3.2"/>
<line x1="342.1" y1="1617.9" x2="353.7" y2="1617.9" stroke="#961400" stroke-width="3.2"/>
<line x1="342.1" y1="1689.1" x2="353.7" y2="1689.1" stroke="#961400" stroke-width="3.2"/>
<line x1="369.4" y1="1678.9" x2="369.4" y2="1609.7" stroke="#961400" stroke-width="3.2"/>
<line x1="363.6" y1="1609.7" x2="375.2" y2="1609.7" stroke="#961400" stroke-width="3.2"/>
<line x1="363.6" y1="1678.9" x2="375.2" y2="1678.9" stroke="#961400" stroke-width="3.2"/>
<line x1="390.9" y1="1668.7" x2="390.9" y2="1599.6" stroke="#961400" stroke-width="3.2"/>
<line x1="385.1" y1="1599.6" x2="396.7" y2="1599.6" stroke="#961400" stroke-width="3.2"/>
<line x1="385.1" y1="1668.7" x2="396.7" y2="1668.7" stroke="#961400" stroke-width="3.2"/>
<line x1="412.3" y1="1658.6" x2="412.3" y2="1589.4" stroke="#961400" stroke-width="3.2"/>
<line x1="406.5" y1="1589.4" x2="418.1" y2="1589.4" stroke="#961400" stroke-width="3.2"/>
<line x1="406.5" y1="1658.6" x2="418.1" y2="1658.6" stroke="#961400" stroke-width="3.2"/>
<line x1="433.8" y1="1649.4" x2="433.8" y2="1582.3" stroke="#961400" stroke-width="3.2"/>
<line x1="428.0" y1="1582.3" x2="439.6" y2="1582.3" stroke="#961400" stroke-width="3.2"/>
<line x1="428.0" y1="1649.4" x2="439.6" y2="1649.4" stroke="#961400" stroke-width="3.2"/>
<line x1="455.3" y1="1639.2" x2="455.3" y2="1576.2" stroke="#961400" stroke-width="3.2"/>
<line x1="449.5" y1="1576.2" x2="461.1" y2="1576.2" stroke="#961400" stroke-width="3.2"/>
<line x1="449.5" y1="1639.2" x2="461.1" y2="1639.2" stroke="#961400" stroke-width="3.2"/>
<line x1="476.8" y1="1632.6" x2="476.8" y2="1568.5" stroke="#961400" stroke-width="3.2"/>
<line x1="471.0" y1="1568.5" x2="482.6" y2="1568.5" stroke="#961400" stroke-width="3.2"/>
<line x1="471.0" y1="1632.6" x2="482.6" y2="1632.6" stroke="#961400" stroke-width="3.2"/>
<line x1="498.2" y1="1624.0" x2="498.2" y2="1562.9" stroke="#961400" stroke-width="3.2"/>
<line x1="492.4" y1="1562.9" x2="504.0" y2="1562.9" stroke="#961400" stroke-width="3.2"/>
<line x1="492.4" y1="1624.0" x2="504.0" y2="1624.0" stroke="#961400" stroke-width="3.2"/>
<line x1="519.7" y1="1614.8" x2="519.7" y2="1557.9" stroke="#961400" stroke-width="3.2"/>
<line x1="513.9" y1="1557.9" x2="525.5" y2="1557.9" stroke="#961400" stroke-width="3.2"/>
<line x1="513.9" y1="1614.8" x2="525.5" y2="1614.8" stroke="#961400" stroke-width="3.2"/>
<line x1="541.2" y1="1608.7" x2="541.2" y2="1551.8" stroke="#961400" stroke-width="3.2"/>
<line x1="535.4" y1="1551.8" x2="547.0" y2="1551.8" stroke="#961400" stroke-width="3.2"/>
<line x1="535.4" y1="1608.7" x2="547.0" y2="1608.7" stroke="#961400" stroke-width="3.2"/>
<path d="M111.7,1813.2 L133.2,1805.1 L154.6,1791.8 L176.1,1778.6 L197.6,1761.3 L219.1,1742.0 L240.5,1725.7 L262.0,1708.4 L283.5,1692.1 L305.0,1676.9 L326.4,1666.7 L347.9,1653.5 L369.4,1644.3 L390.9,1634.2 L412.3,1624.0 L433.8,1615.8 L455.3,1607.7 L476.8,1600.6 L498.2,1593.5 L519.7,1586.3 L541.2,1580.2" stroke="#961400" stroke-width="3" fill="none"/>
<circle cx="111.7" cy="1813.2" r="6.3" fill="#961400"/>
<circle cx="133.2" cy="1805.1" r="6.3" fill="#961400"/>
<circle cx="154.6" cy="1791.8" r="6.3" fill="#961400"/>
<circle cx="176.1" cy="1778.6" r="6.3" fill="#961400"/>
<circle cx="197.6" cy="1761.3" r="6.3" fill="#961400"/>
<circle cx="219.1" cy="1742.0" r="6.3" fill="#961400"/>
<circle cx="240.5" cy="1725.7" r="6.3" fill="#961400"/>
<circle cx="262.0" cy="1708.4" r="6.3" fill="#961400"/>
<circle cx="283.5" cy="1692.1" r="6.3" fill="#961400"/>
<circle cx="305.0" cy="1676.9" r="6.3" fill="#961400"/>
<circle cx="326.4" cy="1666.7" r="6.3" fill="#961400"/>
<circle cx="347.9" cy="1653.5" r="6.3" fill="#961400"/>
<circle cx="369.4" cy="1644.3" r="6.3" fill="#961400"/>
<circle cx="390.9" cy="1634.2" r="6.3" fill="#961400"/>
<circle cx="412.3" cy="1624.0" r="6.3" fill="#961400"/>
<circle cx="433.8" cy="1615.8" r="6.3" fill="#961400"/>
<circle cx="455.3" cy="1607.7" r="6.3" fill="#961400"/>
<circle cx="476.8" cy="1600.6" r="6.3" fill="#961400"/>
<circle cx="498.2" cy="1593.5" r="6.3" fill="#961400"/>
<circle cx="519.7" cy="1586.3" r="6.3" fill="#961400"/>
<circle cx="541.2" cy="1580.2" r="6.3" fill="#961400"/>
<line x1="219.1" y1="1772.5" x2="219.1" y2="1760.3" stroke="#008f8f" stroke-width="3.2"/>
<line x1="213.3" y1="1760.3" x2="224.9" y2="1760.3" stroke="#008f8f" stroke-width="3.2"/>
<line x1="213.3" y1="1772.5" x2="224.9" y2="1772.5" stroke="#008f8f" stroke-width="3.2"/>
<line x1="240.5" y1="1762.8" x2="240.5" y2="1747.6" stroke="#008f8f" stroke-width="3.2"/>
<line x1="234.7" y1="1747.6" x2="246.3" y2="1747.6" stroke="#008f8f" stroke-width="3.2"/>
<line x1="234.7" y1="1762.8" x2="246.3" y2="1762.8" stroke="#008f8f" stroke-width="3.2"/>
<line x1="262.0" y1="1753.2" x2="262.0" y2="1734.9" stroke="#008f8f" stroke-width="3.2"/>
<line x1="256.2" y1="1734.9" x2="267.8" y2="1734.9" stroke="#008f8f" stroke-width="3.2"/>
<line x1="256.2" y1="1753.2" x2="267.8" y2="1753.2" stroke="#008f8f" stroke-width="3.2"/>
<line x1="283.5" y1="1745.0" x2="283.5" y2="1724.7" stroke="#008f8f" stroke-width="3.2"/>
<line x1="277.7" y1="1724.7" x2="289.3" y2="1724.7" stroke="#008f8f" stroke-width="3.2"/>
<line x1="277.7" y1="1745.0" x2="289.3" y2="1745.0" stroke="#008f8f" stroke-width="3.2"/>
<line x1="305.0" y1="1738.4" x2="305.0" y2="1715.0" stroke="#008f8f" stroke-width="3.2"/>
<line x1="299.2" y1="1715.0" x2="310.8" y2="1715.0" stroke="#008f8f" stroke-width="3.2"/>
<line x1="299.2" y1="1738.4" x2="310.8" y2="1738.4" stroke="#008f8f" stroke-width="3.2"/>
<line x1="326.4" y1="1731.8" x2="326.4" y2="1705.4" stroke="#008f8f" stroke-width="3.2"/>
<line x1="320.6" y1="1705.4" x2="332.2" y2="1705.4" stroke="#008f8f" stroke-width="3.2"/>
<line x1="320.6" y1="1731.8" x2="332.2" y2="1731.8" stroke="#008f8f" stroke-width="3.2"/>
<line x1="347.9" y1="1725.7" x2="347.9" y2="1697.2" stroke="#008f8f" stroke-width="3.2"/>
<line x1="342.1" y1="1697.2" x2="353.7" y2="1697.2" stroke="#008f8f" stroke-width="3.2"/>
<line x1="342.1" y1="1725.7" x2="353.7" y2="1725.7" stroke="#008f8f" stroke-width="3.2"/>
<line x1="369.4" y1="1720.6" x2="369.4" y2="1690.1" stroke="#008f8f" stroke-width="3.2"/>
<line x1="363.6" y1="1690.1" x2="375.2" y2="1690.1" stroke="#008f8f" stroke-width="3.2"/>
<line x1="363.6" y1="1720.6" x2="375.2" y2="1720.6" stroke="#008f8f" stroke-width="3.2"/>
<line x1="390.9" y1="1715.0" x2="390.9" y2="1683.5" stroke="#008f8f" stroke-width="3.2"/>
<line x1="385.1" y1="1683.5" x2="396.7" y2="1683.5" stroke="#008f8f" stroke-width="3.2"/>
<line x1="385.1" y1="1715.0" x2="396.7" y2="1715.0" stroke="#008f8f" stroke-width="3.2"/>
<line x1="412.3" y1="1710.5" x2="412.3" y2="1677.9" stroke="#008f8f" stroke-width="3.2"/>
<line x1="406.5" y1="1677.9" x2="418.1" y2="1677.9" stroke="#008f8f" stroke-width="3.2"/>
<line x1="406.5" y1="1710.5" x2="418.1" y2="1710.5" stroke="#008f8f" stroke-width="3.2"/>
<line x1="433.8" y1="1705.9" x2="433.8" y2="1670.3" stroke="#008f8f" stroke-width="3.2"/>
<line x1="428.0" y1="1670.3" x2="439.6" y2="1670.3" stroke="#008f8f" stroke-width="3.2"/>
<line x1="428.0" y1="1705.9" x2="439.6" y2="1705.9" stroke="#008f8f" stroke-width="3.2"/>
<line x1="455.3" y1="1701.3" x2="455.3" y2="1664.7" stroke="#008f8f" stroke-width="3.2"/>
<line x1="449.5" y1="1664.7" x2="461.1" y2="1664.7" stroke="#008f8f" stroke-width="3.2"/>
<line x1="449.5" y1="1701.3" x2="461.1" y2="1701.3" stroke="#008f8f" stroke-width="3.2"/>
<line x1="476.8" y1="1698.2" x2="476.8" y2="1659.6" stroke="#008f8f" stroke-width="3.2"/>
<line x1="471.0" y1="1659.6" x2="482.6" y2="1659.6" stroke="#008f8f" stroke-width="3.2"/>
<line x1="471.0" y1="1698.2" x2="482.6" y2="1698.2" stroke="#008f8f" stroke-width="3.2"/>
<line x1="498.2" y1="1693.7" x2="498.2" y2="1654.0" stroke="#008f8f" stroke-width="3.2"/>
<line x1="492.4" y1="1654.0" x2="504.0" y2="1654.0" stroke="#008f8f" stroke-width="3.2"/>
<line x1="492.4" y1="1693.7" x2="504.0" y2="1693.7" stroke="#008f8f" stroke-width="3.2"/>
<line x1="519.7" y1="1690.1" x2="519.7" y2="1649.4" stroke="#008f8f" stroke-width="3.2"/>
<line x1="513.9" y1="1649.4" x2="525.5" y2="1649.4" stroke="#008f8f" stroke-width="3.2"/>
<line x1="513.9" y1="1690.1" x2="525.5" y2="1690.1" stroke="#008f8f" stroke-width="3.2"/>
<line x1="541.2" y1="1687.1" x2="541.2" y2="1644.3" stroke="#008f8f" stroke-width="3.2"/>
<line x1="535.4" y1="1644.3" x2="547.0" y2="1644.3" stroke="#008f8f" stroke-width="3.2"/>
<line x1="535.4" y1="1687.1" x2="547.0" y2="1687.1" stroke="#008f8f" stroke-width="3.2"/>
<path d="M111.7,1814.2 L133.2,1809.1 L154.6,1801.0 L176.1,1790.8 L197.6,1777.6 L219.1,1766.4 L240.5,1755.2 L262.0,1744.0 L283.5,1734.9 L305.0,1726.7 L326.4,1718.6 L347.9,1711.5 L369.4,1705.4 L390.9,1699.3 L412.3,1694.2 L433.8,1688.1 L455.3,1683.0 L476.8,1678.9 L498.2,1673.8 L519.7,1669.8 L541.2,1665.7" stroke="#008f8f" stroke-width="3" fill="none"/>
<rect x="105.5" y="1808.0" width="12.5" height="12.5" fill="#008f8f"/>
<rect x="126.9" y="1802.9" width="12.5" height="12.5" fill="#008f8f"/>
<rect x="148.4" y="1794.7" width="12.5" height="12.5" fill="#008f8f"/>
<rect x="169.9" y="1784.6" width="12.5" height="12.5" fill="#008f8f"/>
<rect x="191.3" y="1771.3" width="12.5" height="12.5" fill="#008f8f"/>
<rect x="212.8" y="1760.2" width="12.5" height="12.5" fill="#008f8f"/>
<rect x="234.3" y="1749.0" width="12.5" height="12.5" fill="#008f8f"/>
<rect x="255.8" y="1737.8" width="12.5" height="12.5" fill="#008f8f"/>
<rect x="277.2" y="1728.6" width="12.5" height="12.5" fill="#008f8f"/>
<rect x="298.7" y="1720.5" width="12.5" height="12.5" fill="#008f8f"/>
<rect x="320.2" y="1712.3" width="12.5" height="12.5" fill="#008f8f"/>
<rect x="341.7" y="1705.2" width="12.5" height="12.5" fill="#008f8f"/>
<rect x="363.1" y="1699.1" width="12.5" height="12.5" fill="#008f8f"/>
<rect x="384.6" y="1693.0" width="12.5" height="12.5" fill="#008f8f"/>
<rect x="406.1" y="1687.9" width="12.5" height="12.5" fill="#008f8f"/>
<rect x="427.6" y="1681.8" width="12.5" height="12.5" fill="#008f8f"/>
<rect x="449.0" y="1676.7" width="12.5" height="12.5" fill="#008f8f"/>
<rect x="470.5" y="1672.7" width="12.5" height="12.5" fill="#008f8f"/>
<rect x="492.0" y="1667.6" width="12.5" height="12.5" fill="#008f8f"/>
<rect x="513.5" y="1663.5" width="12.5" height="12.5" fill="#008f8f"/>
<rect x="534.9" y="1659.4" width="12.5" height="12.5" fill="#008f8f"/>
<line x1="97.5" y1="1529.9" x2="97.5" y2="1838.1" stroke="#000" stroke-width="3"/>
<line x1="84.7" y1="1836.6" x2="555.1" y2="1836.6" stroke="#000" stroke-width="3"/>
<line x1="84.2" y1="1836.6" x2="97.5" y2="1836.6" stroke="#000" stroke-width="3"/>
<text x="83.2" y="1845.2" font-size="24" font-weight="bold" text-anchor="end">0</text>
<line x1="84.2" y1="1734.9" x2="97.5" y2="1734.9" stroke="#000" stroke-width="3"/>
<text x="83.2" y="1743.5" font-size="24" font-weight="bold" text-anchor="end">10</text>
<line x1="84.2" y1="1633.1" x2="97.5" y2="1633.1" stroke="#000" stroke-width="3"/>
<text x="83.2" y="1641.7" font-size="24" font-weight="bold" text-anchor="end">20</text>
<line x1="84.2" y1="1531.4" x2="97.5" y2="1531.4" stroke="#000" stroke-width="3"/>
<text x="83.2" y="1540.0" font-size="24" font-weight="bold" text-anchor="end">30</text>
<line x1="111.7" y1="1836.6" x2="111.7" y2="1849.6" stroke="#000" stroke-width="3"/>
<text x="111.7" y="1872.8" font-size="24" font-weight="bold" text-anchor="middle">0</text>
<line x1="219.1" y1="1836.6" x2="219.1" y2="1849.6" stroke="#000" stroke-width="3"/>
<text x="219.1" y="1872.8" font-size="24" font-weight="bold" text-anchor="middle">15</text>
<line x1="326.4" y1="1836.6" x2="326.4" y2="1849.6" stroke="#000" stroke-width="3"/>
<text x="326.4" y="1872.8" font-size="24" font-weight="bold" text-anchor="middle">30</text>
<line x1="433.8" y1="1836.6" x2="433.8" y2="1849.6" stroke="#000" stroke-width="3"/>
<text x="433.8" y="1872.8" font-size="24" font-weight="bold" text-anchor="middle">45</text>
<line x1="541.2" y1="1836.6" x2="541.2" y2="1849.6" stroke="#000" stroke-width="3"/>
<text x="541.2" y="1872.8" font-size="24" font-weight="bold" text-anchor="middle">60</text>
<text x="326.7" y="1902.0" font-size="25" font-weight="bold" text-anchor="middle">Min</text>
<text transform="translate(44.5,1683.5) rotate(-90)" font-size="25" font-weight="bold" text-anchor="middle">DEVD-AMC (x10<tspan font-size="17" dy="-9">3</tspan><tspan dy="9"> RLU)</tspan></text>
<line x1="619.7" y1="1542.0" x2="655.6" y2="1542.0" stroke="#1a1a1a" stroke-width="2.8"/>
<path d="M637.7,1535.5 L643.7,1546.3 L631.7,1546.3 Z" fill="#1a1a1a"/>
<line x1="619.7" y1="1587.6" x2="655.6" y2="1587.6" stroke="#961400" stroke-width="2.8"/>
<circle cx="637.7" cy="1587.6" r="6.2" fill="#961400"/>
<line x1="619.7" y1="1633.4" x2="655.6" y2="1633.4" stroke="#008f8f" stroke-width="2.8"/>
<rect x="631.4" y="1627.2" width="12.5" height="12.5" fill="#008f8f"/>
<text x="672.7" y="1550.6" font-size="25" font-style="italic">A20<tspan font-size="18.5" dy="-10">+/+</tspan><tspan dy="10"> Cyld</tspan><tspan font-size="18.5" dy="-10">+/+</tspan></text>
<text x="672.7" y="1596.6" font-size="25" font-style="italic">A20<tspan font-size="18.5" dy="-10">ΔIEC</tspan><tspan dy="10"> Cyld</tspan><tspan font-size="18.5" dy="-10">+/+</tspan></text>
<text x="672.7" y="1642.6" font-size="25" font-style="italic">A20<tspan font-size="18.5" dy="-10">ΔIEC</tspan><tspan dy="10"> Cyld</tspan><tspan font-size="18.5" dy="-10">ΔIEC</tspan></text>
<path d="M870.6,1543.5 L879.8,1543.5 L879.8,1587 L870.6,1587" stroke="#000" stroke-width="2.6" fill="none"/>
<path d="M870.6,1590.6 L879.8,1590.6 L879.8,1634.4 L870.6,1634.4" stroke="#000" stroke-width="2.6" fill="none"/>
<text x="886.2" y="1576.0" font-size="21" font-weight="bold">***</text>
<text x="886.2" y="1622.5" font-size="21" font-weight="bold">**</text>
<text x="967.2" y="1503.5" font-size="36" font-weight="bold">G</text>
<text x="1108.0" y="1531.2" font-size="22.3" font-weight="bold" font-style="italic" text-anchor="end">A20</text>
<text x="1108.0" y="1563.0" font-size="22.3" font-weight="bold" font-style="italic" text-anchor="end">Cyld</text>
<text x="1154.0" y="1529.4" font-size="17.8" font-weight="bold" text-anchor="middle">+/+</text>
<text x="1154.0" y="1561.4" font-size="17.8" font-weight="bold" text-anchor="middle">+/+</text>
<text x="1211.9" y="1529.4" font-size="17.8" font-weight="bold" text-anchor="middle">ΔIEC</text>
<text x="1211.9" y="1561.4" font-size="17.8" font-weight="bold" text-anchor="middle">+/+</text>
<text x="1269.9" y="1529.4" font-size="17.8" font-weight="bold" text-anchor="middle">ΔIEC</text>
<text x="1269.9" y="1561.4" font-size="17.8" font-weight="bold" text-anchor="middle">ΔIEC</text>
<text x="1097.9" y="1599.6" font-size="22.5" text-anchor="end">35 –</text>
<text x="1097.9" y="1675.4" font-size="22.5" text-anchor="end">25 –</text>
<text x="1097.9" y="1772.0" font-size="22.5" text-anchor="end">15 –</text>
<text x="1097.9" y="1837.9" font-size="22.5" text-anchor="end">55 –</text>
<text x="1318.5" y="1619.0" font-size="22.3" font-weight="bold">Casp-3</text>
<text x="1318.5" y="1757.1" font-size="22.3" font-weight="bold">Cl. Casp-3</text>
<text x="1318.5" y="1838.8" font-size="22.3" font-weight="bold">β-Tubulin</text>
<rect x="1121.6" y="1583.2" width="180.4" height="206.0" fill="#f1f1f1"/>
<clipPath id="cg1"><rect x="1121.6" y="1583.2" width="180.4" height="206.0"/></clipPath><g clip-path="url(#cg1)">
<rect x="1133.2" y="1599.2" width="50.0" height="9.5" rx="4.8" fill="#000" fill-opacity="1.00" filter="url(#b1_3)" transform="rotate(-5.0 1158.2 1604.0)"/>
<rect x="1136.0" y="1613.0" width="44.0" height="6.0" rx="3.0" fill="#000" fill-opacity="0.06" filter="url(#b2_5)"/>
<rect x="1192.7" y="1598.5" width="45.0" height="14.0" rx="6.0" fill="#000" fill-opacity="1.00" filter="url(#b1_3)"/>
<rect x="1196.5" y="1611.5" width="40.0" height="12.0" rx="6.0" fill="#000" fill-opacity="1.00" filter="url(#b1_3)" transform="rotate(2.0 1216.5 1617.5)"/>
<rect x="1194.5" y="1607.5" width="42.0" height="8.0" rx="1.0" fill="#000" fill-opacity="1.00" filter="url(#b1_3)"/>
<rect x="1246.2" y="1601.8" width="47.0" height="10.5" rx="5.2" fill="#000" fill-opacity="1.00" filter="url(#b1_3)"/>
<rect x="1249.5" y="1615.0" width="40.0" height="6.0" rx="3.0" fill="#000" fill-opacity="0.22" filter="url(#b2_5)"/>
<rect x="1199.7" y="1728.0" width="38.0" height="8.5" rx="4.2" fill="#000" fill-opacity="0.85" filter="url(#b1_6)"/>
<rect x="1198.4" y="1751.8" width="40.0" height="11.0" rx="5.5" fill="#000" fill-opacity="0.90" filter="url(#b1_6)"/>
<rect x="1250.6" y="1733.3" width="44.0" height="4.0" rx="2.0" fill="#000" fill-opacity="0.06" filter="url(#b2)"/>
<rect x="1249.6" y="1756.2" width="46.0" height="6.5" rx="3.2" fill="#000" fill-opacity="0.35" filter="url(#b2)"/>
</g>
<rect x="1121.6" y="1583.2" width="180.4" height="206.0" fill="none" stroke="#000" stroke-width="2.4"/>
<rect x="1121.6" y="1795.6" width="180.4" height="70.0" fill="#ececec"/>
<clipPath id="cg2"><rect x="1121.6" y="1795.6" width="180.4" height="70.0"/></clipPath><g clip-path="url(#cg2)">
<rect x="1133.5" y="1827.1" width="47.5" height="11.0" rx="5.5" fill="#000" fill-opacity="1.00" filter="url(#b1_5)"/>
<rect x="1188.0" y="1827.2" width="50.4" height="11.5" rx="5.8" fill="#000" fill-opacity="1.00" filter="url(#b1_5)"/>
<rect x="1244.8" y="1826.7" width="50.4" height="11.5" rx="5.8" fill="#000" fill-opacity="1.00" filter="url(#b1_5)"/>
<rect x="1197.0" y="1842.0" width="32.0" height="6.0" rx="3.0" fill="#000" fill-opacity="0.07" filter="url(#b2_5)"/>
</g>
<rect x="1121.6" y="1795.6" width="180.4" height="70.0" fill="none" stroke="#000" stroke-width="2.4"/>
<text x="5.2" y="1974.9" font-size="36" font-weight="bold">H</text>
<path d="M290.8,2071.3 L338.9,2071.3 L338.9,2193.4 L435.1,2193.4 L435.1,2254.4 L531.2,2254.4 L531.2,2315.4 L531.2,2315.4" stroke="#008f8f" stroke-width="2.8" fill="none"/>
<path d="M290.8,2010.3 L290.8,2086.6 L338.9,2086.6 L338.9,2162.8 L387.0,2162.8 L387.0,2239.1 L531.2,2239.1 L531.2,2239.1" stroke="#961400" stroke-width="2.8" fill="none"/>
<line x1="531.2" y1="2233.1" x2="531.2" y2="2239.1" stroke="#1a1a1a" stroke-width="2.8"/>
<line x1="98.5" y1="2010.3" x2="531.2" y2="2010.3" stroke="#1a1a1a" stroke-width="2.8"/>
<line x1="531.2" y1="2004.3" x2="531.2" y2="2010.3" stroke="#1a1a1a" stroke-width="2.8"/>
<line x1="98.5" y1="2008.8" x2="98.5" y2="2316.9" stroke="#000" stroke-width="3"/>
<line x1="93.3" y1="2315.4" x2="555.4" y2="2315.4" stroke="#000" stroke-width="3"/>
<line x1="93.0" y1="2315.4" x2="98.5" y2="2315.4" stroke="#000" stroke-width="3"/>
<text x="88.0" y="2324.0" font-size="24" font-weight="bold" text-anchor="end">0</text>
<line x1="93.0" y1="2254.4" x2="98.5" y2="2254.4" stroke="#000" stroke-width="3"/>
<text x="88.0" y="2263.0" font-size="24" font-weight="bold" text-anchor="end">20</text>
<line x1="93.0" y1="2193.4" x2="98.5" y2="2193.4" stroke="#000" stroke-width="3"/>
<text x="88.0" y="2202.0" font-size="24" font-weight="bold" text-anchor="end">40</text>
<line x1="93.0" y1="2132.3" x2="98.5" y2="2132.3" stroke="#000" stroke-width="3"/>
<text x="88.0" y="2140.9" font-size="24" font-weight="bold" text-anchor="end">60</text>
<line x1="93.0" y1="2071.3" x2="98.5" y2="2071.3" stroke="#000" stroke-width="3"/>
<text x="88.0" y="2079.9" font-size="24" font-weight="bold" text-anchor="end">80</text>
<line x1="93.0" y1="2010.3" x2="98.5" y2="2010.3" stroke="#000" stroke-width="3"/>
<text x="88.0" y="2018.9" font-size="24" font-weight="bold" text-anchor="end">100</text>
<line x1="98.5" y1="2315.4" x2="98.5" y2="2320.7" stroke="#000" stroke-width="3"/>
<line x1="146.6" y1="2315.4" x2="146.6" y2="2318.8" stroke="#000" stroke-width="3"/>
<line x1="194.7" y1="2315.4" x2="194.7" y2="2320.7" stroke="#000" stroke-width="3"/>
<line x1="242.7" y1="2315.4" x2="242.7" y2="2318.8" stroke="#000" stroke-width="3"/>
<line x1="290.8" y1="2315.4" x2="290.8" y2="2320.7" stroke="#000" stroke-width="3"/>
<line x1="338.9" y1="2315.4" x2="338.9" y2="2318.8" stroke="#000" stroke-width="3"/>
<line x1="387.0" y1="2315.4" x2="387.0" y2="2320.7" stroke="#000" stroke-width="3"/>
<line x1="435.1" y1="2315.4" x2="435.1" y2="2318.8" stroke="#000" stroke-width="3"/>
<line x1="483.1" y1="2315.4" x2="483.1" y2="2320.7" stroke="#000" stroke-width="3"/>
<line x1="531.2" y1="2315.4" x2="531.2" y2="2318.8" stroke="#000" stroke-width="3"/>
<text x="98.5" y="2347.4" font-size="24" font-weight="bold" text-anchor="middle">0</text>
<text x="194.7" y="2347.4" font-size="24" font-weight="bold" text-anchor="middle">2</text>
<text x="290.8" y="2347.4" font-size="24" font-weight="bold" text-anchor="middle">4</text>
<text x="387.0" y="2347.4" font-size="24" font-weight="bold" text-anchor="middle">6</text>
<text x="483.1" y="2347.4" font-size="24" font-weight="bold" text-anchor="middle">8</text>
<text x="327.6" y="2396.5" font-size="25" font-weight="bold" text-anchor="middle">Hours mTNF</text>
<text transform="translate(25.5,2162.5) rotate(-90)" font-size="25" font-weight="bold" text-anchor="middle">Survival (%)</text>
<text x="629.4" y="1972.6" font-size="36" font-weight="bold">I</text>
<line x1="847.7" y1="2124.2" x2="847.7" y2="2084.4" stroke="#961400" stroke-width="2.6"/>
<line x1="841.7" y1="2084.4" x2="853.7" y2="2084.4" stroke="#961400" stroke-width="2.6"/>
<line x1="841.7" y1="2124.2" x2="853.7" y2="2124.2" stroke="#961400" stroke-width="2.6"/>
<line x1="908.7" y1="2181.1" x2="908.7" y2="2124.2" stroke="#961400" stroke-width="2.6"/>
<line x1="902.7" y1="2124.2" x2="914.7" y2="2124.2" stroke="#961400" stroke-width="2.6"/>
<line x1="902.7" y1="2181.1" x2="914.7" y2="2181.1" stroke="#961400" stroke-width="2.6"/>
<line x1="969.7" y1="2226.7" x2="969.7" y2="2147.1" stroke="#961400" stroke-width="2.6"/>
<line x1="963.7" y1="2147.1" x2="975.7" y2="2147.1" stroke="#961400" stroke-width="2.6"/>
<line x1="963.7" y1="2226.7" x2="975.7" y2="2226.7" stroke="#961400" stroke-width="2.6"/>
<line x1="1030.8" y1="2238.3" x2="1030.8" y2="2157.8" stroke="#961400" stroke-width="2.6"/>
<line x1="1024.8" y1="2157.8" x2="1036.8" y2="2157.8" stroke="#961400" stroke-width="2.6"/>
<line x1="1024.8" y1="2238.3" x2="1036.8" y2="2238.3" stroke="#961400" stroke-width="2.6"/>
<line x1="1091.8" y1="2238.9" x2="1091.8" y2="2171.6" stroke="#961400" stroke-width="2.6"/>
<line x1="1085.8" y1="2171.6" x2="1097.8" y2="2171.6" stroke="#961400" stroke-width="2.6"/>
<line x1="1085.8" y1="2238.9" x2="1097.8" y2="2238.9" stroke="#961400" stroke-width="2.6"/>
<line x1="1152.8" y1="2239.5" x2="1152.8" y2="2182.3" stroke="#961400" stroke-width="2.6"/>
<line x1="1146.8" y1="2182.3" x2="1158.8" y2="2182.3" stroke="#961400" stroke-width="2.6"/>
<line x1="1146.8" y1="2239.5" x2="1158.8" y2="2239.5" stroke="#961400" stroke-width="2.6"/>
<line x1="1213.8" y1="2240.0" x2="1213.8" y2="2198.0" stroke="#961400" stroke-width="2.6"/>
<line x1="1207.8" y1="2198.0" x2="1219.8" y2="2198.0" stroke="#961400" stroke-width="2.6"/>
<line x1="1207.8" y1="2240.0" x2="1219.8" y2="2240.0" stroke="#961400" stroke-width="2.6"/>
<path d="M725.7,2043.1 L786.7,2059.9 L847.7,2104.3 L908.7,2152.6 L969.7,2186.9 L1030.8,2198.0 L1091.8,2205.2 L1152.8,2210.9 L1213.8,2219.0" stroke="#961400" stroke-width="2.8" fill="none"/>
<circle cx="725.7" cy="2043.1" r="6.5" fill="#961400"/>
<circle cx="786.7" cy="2059.9" r="6.5" fill="#961400"/>
<circle cx="847.7" cy="2104.3" r="6.5" fill="#961400"/>
<circle cx="908.7" cy="2152.6" r="6.5" fill="#961400"/>
<circle cx="969.7" cy="2186.9" r="6.5" fill="#961400"/>
<circle cx="1030.8" cy="2198.0" r="6.5" fill="#961400"/>
<circle cx="1091.8" cy="2205.2" r="6.5" fill="#961400"/>
<circle cx="1152.8" cy="2210.9" r="6.5" fill="#961400"/>
<circle cx="1213.8" cy="2219.0" r="6.5" fill="#961400"/>
<line x1="847.7" y1="2111.1" x2="847.7" y2="2092.8" stroke="#008f8f" stroke-width="2.6"/>
<line x1="841.7" y1="2092.8" x2="853.7" y2="2092.8" stroke="#008f8f" stroke-width="2.6"/>
<line x1="841.7" y1="2111.1" x2="853.7" y2="2111.1" stroke="#008f8f" stroke-width="2.6"/>
<line x1="908.7" y1="2157.8" x2="908.7" y2="2118.0" stroke="#008f8f" stroke-width="2.6"/>
<line x1="902.7" y1="2118.0" x2="914.7" y2="2118.0" stroke="#008f8f" stroke-width="2.6"/>
<line x1="902.7" y1="2157.8" x2="914.7" y2="2157.8" stroke="#008f8f" stroke-width="2.6"/>
<line x1="969.7" y1="2206.3" x2="969.7" y2="2151.2" stroke="#008f8f" stroke-width="2.6"/>
<line x1="963.7" y1="2151.2" x2="975.7" y2="2151.2" stroke="#008f8f" stroke-width="2.6"/>
<line x1="963.7" y1="2206.3" x2="975.7" y2="2206.3" stroke="#008f8f" stroke-width="2.6"/>
<line x1="1030.8" y1="2230.5" x2="1030.8" y2="2189.8" stroke="#008f8f" stroke-width="2.6"/>
<line x1="1024.8" y1="2189.8" x2="1036.8" y2="2189.8" stroke="#008f8f" stroke-width="2.6"/>
<line x1="1024.8" y1="2230.5" x2="1036.8" y2="2230.5" stroke="#008f8f" stroke-width="2.6"/>
<line x1="1091.8" y1="2241.0" x2="1091.8" y2="2223.6" stroke="#008f8f" stroke-width="2.6"/>
<line x1="1085.8" y1="2223.6" x2="1097.8" y2="2223.6" stroke="#008f8f" stroke-width="2.6"/>
<line x1="1085.8" y1="2241.0" x2="1097.8" y2="2241.0" stroke="#008f8f" stroke-width="2.6"/>
<path d="M725.7,2044.6 L786.7,2070.6 L847.7,2102.0 L908.7,2137.9 L969.7,2178.8 L1030.8,2210.1 L1091.8,2232.3 L1152.8,2235.8 L1213.8,2238.9" stroke="#008f8f" stroke-width="2.8" fill="none"/>
<rect x="719.7" y="2038.6" width="12.0" height="12.0" fill="#008f8f"/>
<rect x="780.7" y="2064.6" width="12.0" height="12.0" fill="#008f8f"/>
<rect x="841.7" y="2096.0" width="12.0" height="12.0" fill="#008f8f"/>
<rect x="902.7" y="2131.9" width="12.0" height="12.0" fill="#008f8f"/>
<rect x="963.7" y="2172.8" width="12.0" height="12.0" fill="#008f8f"/>
<rect x="1024.8" y="2204.1" width="12.0" height="12.0" fill="#008f8f"/>
<rect x="1085.8" y="2226.3" width="12.0" height="12.0" fill="#008f8f"/>
<rect x="1146.8" y="2229.8" width="12.0" height="12.0" fill="#008f8f"/>
<rect x="1207.8" y="2232.9" width="12.0" height="12.0" fill="#008f8f"/>
<line x1="786.7" y1="2063.0" x2="786.7" y2="2049.2" stroke="#1a1a1a" stroke-width="2.6"/>
<line x1="780.7" y1="2049.2" x2="792.7" y2="2049.2" stroke="#1a1a1a" stroke-width="2.6"/>
<line x1="780.7" y1="2063.0" x2="792.7" y2="2063.0" stroke="#1a1a1a" stroke-width="2.6"/>
<line x1="847.7" y1="2076.0" x2="847.7" y2="2057.6" stroke="#1a1a1a" stroke-width="2.6"/>
<line x1="841.7" y1="2057.6" x2="853.7" y2="2057.6" stroke="#1a1a1a" stroke-width="2.6"/>
<line x1="841.7" y1="2076.0" x2="853.7" y2="2076.0" stroke="#1a1a1a" stroke-width="2.6"/>
<line x1="908.7" y1="2072.6" x2="908.7" y2="2060.3" stroke="#1a1a1a" stroke-width="2.6"/>
<line x1="902.7" y1="2060.3" x2="914.7" y2="2060.3" stroke="#1a1a1a" stroke-width="2.6"/>
<line x1="902.7" y1="2072.6" x2="914.7" y2="2072.6" stroke="#1a1a1a" stroke-width="2.6"/>
<path d="M725.7,2045.4 L786.7,2056.1 L847.7,2066.8 L908.7,2066.5 L969.7,2065.1 L1030.8,2069.5 L1091.8,2073.2 L1152.8,2080.2 L1213.8,2083.5" stroke="#1a1a1a" stroke-width="2.8" fill="none"/>
<path d="M725.7,2038.6 L732.0,2049.9 L719.5,2049.9 Z" fill="#1a1a1a"/>
<path d="M786.7,2049.3 L793.0,2060.6 L780.5,2060.6 Z" fill="#1a1a1a"/>
<path d="M847.7,2060.0 L854.0,2071.3 L841.5,2071.3 Z" fill="#1a1a1a"/>
<path d="M908.7,2059.7 L915.0,2071.0 L902.5,2071.0 Z" fill="#1a1a1a"/>
<path d="M969.7,2058.3 L976.0,2069.6 L963.5,2069.6 Z" fill="#1a1a1a"/>
<path d="M1030.8,2062.8 L1037.0,2074.0 L1024.5,2074.0 Z" fill="#1a1a1a"/>
<path d="M1091.8,2066.5 L1098.0,2077.7 L1085.5,2077.7 Z" fill="#1a1a1a"/>
<path d="M1152.8,2073.5 L1159.0,2084.7 L1146.5,2084.7 Z" fill="#1a1a1a"/>
<path d="M1213.8,2076.7 L1220.0,2088.0 L1207.5,2088.0 Z" fill="#1a1a1a"/>
<line x1="725.7" y1="2007.9" x2="725.7" y2="2316.9" stroke="#000" stroke-width="3"/>
<line x1="720.4" y1="2315.4" x2="1215.0" y2="2315.4" stroke="#000" stroke-width="3"/>
<line x1="720.4" y1="2315.4" x2="725.7" y2="2315.4" stroke="#000" stroke-width="3"/>
<text x="715.3" y="2324.0" font-size="24" font-weight="bold" text-anchor="end">20</text>
<line x1="720.4" y1="2238.9" x2="725.7" y2="2238.9" stroke="#000" stroke-width="3"/>
<text x="715.3" y="2247.5" font-size="24" font-weight="bold" text-anchor="end">25</text>
<line x1="720.4" y1="2162.4" x2="725.7" y2="2162.4" stroke="#000" stroke-width="3"/>
<text x="715.3" y="2171.0" font-size="24" font-weight="bold" text-anchor="end">30</text>
<line x1="720.4" y1="2085.9" x2="725.7" y2="2085.9" stroke="#000" stroke-width="3"/>
<text x="715.3" y="2094.5" font-size="24" font-weight="bold" text-anchor="end">35</text>
<line x1="720.4" y1="2009.4" x2="725.7" y2="2009.4" stroke="#000" stroke-width="3"/>
<text x="715.3" y="2018.0" font-size="24" font-weight="bold" text-anchor="end">40</text>
<line x1="725.7" y1="2315.4" x2="725.7" y2="2320.7" stroke="#000" stroke-width="3"/>
<line x1="786.7" y1="2315.4" x2="786.7" y2="2318.8" stroke="#000" stroke-width="3"/>
<line x1="847.7" y1="2315.4" x2="847.7" y2="2320.7" stroke="#000" stroke-width="3"/>
<line x1="908.7" y1="2315.4" x2="908.7" y2="2318.8" stroke="#000" stroke-width="3"/>
<line x1="969.7" y1="2315.4" x2="969.7" y2="2320.7" stroke="#000" stroke-width="3"/>
<line x1="1030.8" y1="2315.4" x2="1030.8" y2="2318.8" stroke="#000" stroke-width="3"/>
<line x1="1091.8" y1="2315.4" x2="1091.8" y2="2320.7" stroke="#000" stroke-width="3"/>
<line x1="1152.8" y1="2315.4" x2="1152.8" y2="2318.8" stroke="#000" stroke-width="3"/>
<line x1="1213.8" y1="2315.4" x2="1213.8" y2="2320.7" stroke="#000" stroke-width="3"/>
<text x="725.7" y="2347.6" font-size="24" font-weight="bold" text-anchor="middle">0</text>
<text x="847.7" y="2347.6" font-size="24" font-weight="bold" text-anchor="middle">2</text>
<text x="969.7" y="2347.6" font-size="24" font-weight="bold" text-anchor="middle">4</text>
<text x="1091.8" y="2347.6" font-size="24" font-weight="bold" text-anchor="middle">6</text>
<text x="1213.8" y="2347.6" font-size="24" font-weight="bold" text-anchor="middle">8</text>
<text x="970.5" y="2396.8" font-size="25" font-weight="bold" text-anchor="middle">Hours mTNF</text>
<text transform="translate(652.3,2162.5) rotate(-90)" font-size="25" font-weight="bold" text-anchor="middle">Body temperature (°C)</text>
<line x1="1300.6" y1="2011.2" x2="1335.8" y2="2011.2" stroke="#1a1a1a" stroke-width="2.8"/>
<path d="M1318.2,2004.7 L1324.2,2015.5 L1312.2,2015.5 Z" fill="#1a1a1a"/>
<line x1="1300.6" y1="2054.5" x2="1335.8" y2="2054.5" stroke="#961400" stroke-width="2.8"/>
<circle cx="1318.2" cy="2054.5" r="6.2" fill="#961400"/>
<line x1="1300.6" y1="2091.9" x2="1335.8" y2="2091.9" stroke="#008f8f" stroke-width="2.8"/>
<rect x="1311.9" y="2085.7" width="12.5" height="12.5" fill="#008f8f"/>
<text x="1353.6" y="2021.9" font-size="25" font-style="italic">A20<tspan font-size="18.5" dy="-10">+/+</tspan><tspan dy="10"> Cyld</tspan><tspan font-size="18.5" dy="-10">+/+</tspan></text>
<text x="1353.6" y="2065.6" font-size="25" font-style="italic">A20<tspan font-size="18.5" dy="-10">ΔIEC</tspan><tspan dy="10"> Cyld</tspan><tspan font-size="18.5" dy="-10">+/+</tspan></text>
<text x="1353.6" y="2102.6" font-size="23.2" font-style="italic">A20<tspan font-size="16.5" dy="-9">ΔIEC</tspan><tspan dy="9"> Cyld</tspan><tspan font-size="16.5" dy="-9">ΔIEC</tspan></text>
<defs><filter id="b0_6" x="-50%" y="-50%" width="200%" height="200%"><feGaussianBlur stdDeviation="0.6"/></filter><filter id="b0_8" x="-50%" y="-50%" width="200%" height="200%"><feGaussianBlur stdDeviation="0.8"/></filter><filter id="b1" x="-50%" y="-50%" width="200%" height="200%"><feGaussianBlur stdDeviation="1"/></filter><filter id="b1_2" x="-50%" y="-50%" width="200%" height="200%"><feGaussianBlur stdDeviation="1.2"/></filter><filter id="b1_3" x="-50%" y="-50%" width="200%" height="200%"><feGaussianBlur stdDeviation="1.3"/></filter><filter id="b1_4" x="-50%" y="-50%" width="200%" height="200%"><feGaussianBlur stdDeviation="1.4"/></filter><filter id="b1_5" x="-50%" y="-50%" width="200%" height="200%"><feGaussianBlur stdDeviation="1.5"/></filter><filter id="b1_6" x="-50%" y="-50%" width="200%" height="200%"><feGaussianBlur stdDeviation="1.6"/></filter><filter id="b1_8" x="-50%" y="-50%" width="200%" height="200%"><feGaussianBlur stdDeviation="1.8"/></filter><filter id="b1_9" x="-50%" y="-50%" width="200%" height="200%"><feGaussianBlur stdDeviation="1.9"/></filter><filter id="b2" x="-50%" y="-50%" width="200%" height="200%"><feGaussianBlur stdDeviation="2"/></filter><filter id="b2_2" x="-50%" y="-50%" width="200%" height="200%"><feGaussianBlur stdDeviation="2.2"/></filter><filter id="b2_5" x="-50%" y="-50%" width="200%" height="200%"><feGaussianBlur stdDeviation="2.5"/></filter><filter id="b3" x="-50%" y="-50%" width="200%" height="200%"><feGaussianBlur stdDeviation="3"/></filter><filter id="b4" x="-50%" y="-50%" width="200%" height="200%"><feGaussianBlur stdDeviation="4"/></filter><filter id="b4_5" x="-50%" y="-50%" width="200%" height="200%"><feGaussianBlur stdDeviation="4.5"/></filter><filter id="b5" x="-50%" y="-50%" width="200%" height="200%"><feGaussianBlur stdDeviation="5"/></filter><filter id="b6" x="-50%" y="-50%" width="200%" height="200%"><feGaussianBlur stdDeviation="6"/></filter><filter id="b8" x="-50%" y="-50%" width="200%" height="200%"><feGaussianBlur stdDeviation="8"/></filter></defs>
</svg>
</body></html>
